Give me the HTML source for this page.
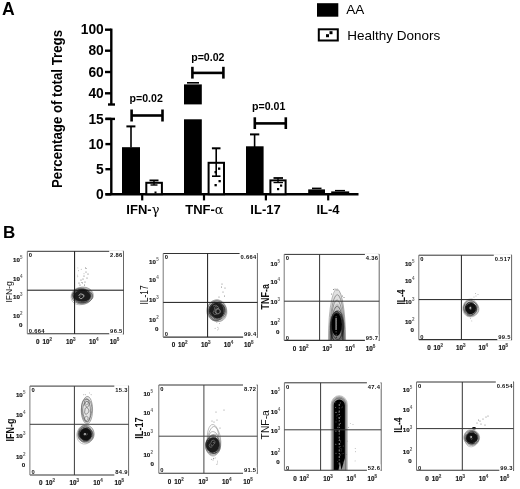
<!DOCTYPE html>
<html><head><meta charset="utf-8"><style>
html,body{margin:0;padding:0;background:#fff;}
svg{display:block;}
</style></head><body>
<svg width="520" height="489" viewBox="0 0 520 489">
<defs><clipPath id="c27_251"><rect x="27.3" y="251.3" width="96.2" height="82.5"/></clipPath><clipPath id="c163_253"><rect x="163.2" y="253.5" width="94.19999999999999" height="83.60000000000002"/></clipPath><clipPath id="c284_254"><rect x="284.2" y="254.4" width="95.0" height="85.99999999999997"/></clipPath><clipPath id="c418_255"><rect x="418.8" y="255.2" width="92.80000000000001" height="84.40000000000003"/></clipPath><clipPath id="c29_386"><rect x="29.9" y="386.1" width="98.69999999999999" height="88.89999999999998"/></clipPath><clipPath id="c158_385"><rect x="158.8" y="385" width="98.5" height="88.19999999999999"/></clipPath><clipPath id="c284_382"><rect x="284.4" y="382.8" width="96.80000000000001" height="87.5"/></clipPath><clipPath id="c416_382"><rect x="416.5" y="382" width="97.10000000000002" height="88.30000000000001"/></clipPath></defs>
<rect width="520" height="489" fill="#fff"/>
<text x="2" y="14.8" font-size="17.6" font-weight="bold" font-family="Liberation Sans, Arial, sans-serif">A</text>
<text transform="translate(62.2,188) rotate(-90)" font-size="14" font-weight="bold" font-family="Liberation Sans, Arial, sans-serif" textLength="158" lengthAdjust="spacingAndGlyphs">Percentage of total Tregs</text>
<line x1="111.30" y1="28.60" x2="111.30" y2="104.70" stroke="#000" stroke-width="2.4"/>
<line x1="108.00" y1="104.50" x2="115.00" y2="104.50" stroke="#000" stroke-width="2.4"/>
<line x1="105.00" y1="29.70" x2="111.30" y2="29.70" stroke="#000" stroke-width="2.4"/>
<text x="103.8" y="34.3" font-size="13.8" font-weight="bold" text-anchor="end" font-family="Liberation Sans, Arial, sans-serif">100</text>
<line x1="105.00" y1="50.70" x2="111.30" y2="50.70" stroke="#000" stroke-width="2.4"/>
<text x="103.8" y="55.3" font-size="13.8" font-weight="bold" text-anchor="end" font-family="Liberation Sans, Arial, sans-serif">80</text>
<line x1="105.00" y1="72.00" x2="111.30" y2="72.00" stroke="#000" stroke-width="2.4"/>
<text x="103.8" y="76.6" font-size="13.8" font-weight="bold" text-anchor="end" font-family="Liberation Sans, Arial, sans-serif">60</text>
<line x1="105.00" y1="93.30" x2="111.30" y2="93.30" stroke="#000" stroke-width="2.4"/>
<text x="103.8" y="97.9" font-size="13.8" font-weight="bold" text-anchor="end" font-family="Liberation Sans, Arial, sans-serif">40</text>
<line x1="111.30" y1="118.90" x2="111.30" y2="194.50" stroke="#000" stroke-width="2.4"/>
<line x1="105.40" y1="118.90" x2="115.00" y2="118.90" stroke="#000" stroke-width="2.4"/>
<line x1="105.40" y1="118.90" x2="111.30" y2="118.90" stroke="#000" stroke-width="2.4"/>
<text x="103.8" y="123.5" font-size="13.8" font-weight="bold" text-anchor="end" font-family="Liberation Sans, Arial, sans-serif">15</text>
<line x1="105.40" y1="144.10" x2="111.30" y2="144.10" stroke="#000" stroke-width="2.4"/>
<text x="103.8" y="148.7" font-size="13.8" font-weight="bold" text-anchor="end" font-family="Liberation Sans, Arial, sans-serif">10</text>
<line x1="105.40" y1="169.20" x2="111.30" y2="169.20" stroke="#000" stroke-width="2.4"/>
<text x="103.8" y="173.8" font-size="13.8" font-weight="bold" text-anchor="end" font-family="Liberation Sans, Arial, sans-serif">5</text>
<line x1="105.40" y1="194.30" x2="111.30" y2="194.30" stroke="#000" stroke-width="2.4"/>
<text x="103.8" y="198.9" font-size="13.8" font-weight="bold" text-anchor="end" font-family="Liberation Sans, Arial, sans-serif">0</text>
<line x1="105.40" y1="194.20" x2="358.50" y2="194.20" stroke="#000" stroke-width="2.4"/>
<line x1="142.20" y1="194.00" x2="142.20" y2="200.40" stroke="#000" stroke-width="2.2"/>
<line x1="204.00" y1="194.00" x2="204.00" y2="200.40" stroke="#000" stroke-width="2.2"/>
<line x1="265.90" y1="194.00" x2="265.90" y2="200.40" stroke="#000" stroke-width="2.2"/>
<line x1="328.20" y1="194.00" x2="328.20" y2="200.40" stroke="#000" stroke-width="2.2"/>
<text x="142.9" y="213.8" font-size="13" text-anchor="middle" font-family="Liberation Sans, Arial, sans-serif"><tspan font-weight="bold">IFN-</tspan><tspan font-family="DejaVu Serif, serif" font-size="13">γ</tspan></text>
<text x="204.4" y="213.8" font-size="13" text-anchor="middle" font-family="Liberation Sans, Arial, sans-serif"><tspan font-weight="bold">TNF-</tspan><tspan font-family="DejaVu Serif, serif" font-size="13">α</tspan></text>
<text x="265.5" y="213.8" font-size="13" font-weight="bold" text-anchor="middle" font-family="Liberation Sans, Arial, sans-serif">IL-17</text>
<text x="328" y="213.8" font-size="13" font-weight="bold" text-anchor="middle" font-family="Liberation Sans, Arial, sans-serif">IL-4</text>
<rect x="122.00" y="147.20" width="18.00" height="47.00" fill="#000"/>
<line x1="131.00" y1="126.20" x2="131.00" y2="147.50" stroke="#000" stroke-width="1.6"/>
<line x1="126.40" y1="126.40" x2="135.40" y2="126.40" stroke="#000" stroke-width="2"/>
<rect x="146.30" y="182.80" width="15.60" height="11.40" fill="#fff" stroke="#000" stroke-width="2"/>
<line x1="149.50" y1="180.40" x2="158.50" y2="180.40" stroke="#000" stroke-width="1.8"/>
<line x1="154.00" y1="180.40" x2="154.00" y2="185.00" stroke="#000" stroke-width="1.4"/>
<line x1="150.50" y1="185.00" x2="157.50" y2="185.00" stroke="#000" stroke-width="1.4"/>
<rect x="154.50" y="191.50" width="2.00" height="2.00" fill="#000"/>
<rect x="184.00" y="84.40" width="17.80" height="20.00" fill="#000"/>
<line x1="187.00" y1="82.80" x2="199.00" y2="82.80" stroke="#000" stroke-width="1.6"/>
<rect x="184.00" y="119.30" width="17.80" height="74.90" fill="#000"/>
<rect x="208.60" y="162.80" width="15.40" height="31.40" fill="#fff" stroke="#000" stroke-width="2"/>
<line x1="216.20" y1="148.30" x2="216.20" y2="176.20" stroke="#000" stroke-width="1.6"/>
<line x1="211.90" y1="148.30" x2="220.50" y2="148.30" stroke="#000" stroke-width="2"/>
<line x1="212.00" y1="176.20" x2="220.50" y2="176.20" stroke="#000" stroke-width="1.6"/>
<rect x="218.00" y="167.50" width="2.30" height="2.30" fill="#000"/>
<rect x="214.50" y="171.00" width="2.30" height="2.30" fill="#000"/>
<rect x="218.50" y="180.00" width="2.30" height="2.30" fill="#000"/>
<rect x="214.50" y="184.00" width="2.30" height="2.30" fill="#000"/>
<rect x="246.00" y="146.30" width="17.60" height="47.90" fill="#000"/>
<line x1="254.60" y1="134.40" x2="254.60" y2="147.00" stroke="#000" stroke-width="1.6"/>
<line x1="250.00" y1="134.40" x2="259.30" y2="134.40" stroke="#000" stroke-width="2"/>
<rect x="270.40" y="180.40" width="15.20" height="13.80" fill="#fff" stroke="#000" stroke-width="2"/>
<line x1="273.50" y1="178.00" x2="283.00" y2="178.00" stroke="#000" stroke-width="1.8"/>
<line x1="278.00" y1="178.00" x2="278.00" y2="183.00" stroke="#000" stroke-width="1.4"/>
<line x1="273.50" y1="182.60" x2="283.00" y2="182.60" stroke="#000" stroke-width="1.2"/>
<rect x="280.00" y="184.50" width="2.20" height="2.20" fill="#000"/>
<rect x="277.00" y="188.00" width="2.20" height="2.20" fill="#000"/>
<rect x="308.20" y="189.40" width="16.80" height="4.80" fill="#000"/>
<line x1="312.00" y1="188.40" x2="321.50" y2="188.40" stroke="#000" stroke-width="1.6"/>
<rect x="331.20" y="191.40" width="18.00" height="2.80" fill="#000"/>
<line x1="335.00" y1="190.60" x2="345.00" y2="190.60" stroke="#000" stroke-width="1.4"/>
<line x1="131.60" y1="115.50" x2="162.50" y2="115.50" stroke="#000" stroke-width="2.6"/>
<line x1="131.60" y1="109.50" x2="131.60" y2="121.50" stroke="#000" stroke-width="2.6"/>
<line x1="162.50" y1="109.50" x2="162.50" y2="121.50" stroke="#000" stroke-width="2.6"/>
<text x="146.2" y="101.8" font-size="10.6" font-weight="bold" text-anchor="middle" font-family="Liberation Sans, Arial, sans-serif">p=0.02</text>
<line x1="192.40" y1="72.90" x2="223.40" y2="72.90" stroke="#000" stroke-width="2.6"/>
<line x1="192.40" y1="66.80" x2="192.40" y2="78.60" stroke="#000" stroke-width="2.6"/>
<line x1="223.40" y1="66.80" x2="223.40" y2="78.60" stroke="#000" stroke-width="2.6"/>
<text x="207.8" y="60.8" font-size="10.6" font-weight="bold" text-anchor="middle" font-family="Liberation Sans, Arial, sans-serif">p=0.02</text>
<line x1="254.80" y1="123.40" x2="285.80" y2="123.40" stroke="#000" stroke-width="2.6"/>
<line x1="254.80" y1="117.30" x2="254.80" y2="129.00" stroke="#000" stroke-width="2.6"/>
<line x1="285.80" y1="117.30" x2="285.80" y2="129.00" stroke="#000" stroke-width="2.6"/>
<text x="268.7" y="109.5" font-size="10.6" font-weight="bold" text-anchor="middle" font-family="Liberation Sans, Arial, sans-serif">p=0.01</text>
<rect x="317.00" y="3.20" width="21.30" height="13.50" fill="#000"/>
<text x="346.3" y="14.4" font-size="13.5" font-family="Liberation Sans, Arial, sans-serif">AA</text>
<rect x="318.80" y="29.30" width="19.00" height="11.20" fill="#fff" stroke="#000" stroke-width="2"/>
<rect x="326.00" y="34.20" width="3.00" height="3.00" fill="#000"/>
<rect x="329.50" y="31.20" width="3.00" height="3.00" fill="#000"/>
<text x="347.2" y="39.5" font-size="13.5" font-family="Liberation Sans, Arial, sans-serif">Healthy Donors</text>
<text x="3" y="237.9" font-size="17" font-weight="bold" font-family="Liberation Sans, Arial, sans-serif">B</text>
<circle cx="79.0" cy="283.0" r="0.5" fill="#555"/>
<circle cx="81.0" cy="280.0" r="0.5" fill="#555"/>
<circle cx="84.0" cy="276.0" r="0.5" fill="#555"/>
<circle cx="86.0" cy="272.0" r="0.5" fill="#555"/>
<circle cx="83.0" cy="279.0" r="0.5" fill="#555"/>
<circle cx="87.0" cy="278.0" r="0.5" fill="#555"/>
<circle cx="80.0" cy="285.0" r="0.5" fill="#555"/>
<circle cx="85.0" cy="282.0" r="0.5" fill="#555"/>
<circle cx="88.0" cy="274.0" r="0.5" fill="#555"/>
<circle cx="86.0" cy="268.5" r="0.5" fill="#555"/>
<circle cx="82.0" cy="282.5" r="0.5" fill="#555"/>
<circle cx="84.5" cy="285.0" r="0.5" fill="#555"/>
<circle cx="81.2" cy="269.2" r="0.45" fill="#888"/>
<circle cx="85.5" cy="267.5" r="0.45" fill="#888"/>
<circle cx="84.0" cy="273.7" r="0.45" fill="#888"/>
<circle cx="77.8" cy="276.7" r="0.45" fill="#888"/>
<circle cx="77.5" cy="275.1" r="0.45" fill="#888"/>
<circle cx="77.9" cy="267.9" r="0.45" fill="#888"/>
<circle cx="82.5" cy="283.4" r="0.45" fill="#888"/>
<circle cx="78.6" cy="270.7" r="0.45" fill="#888"/>
<path d="M92.99,295.90 L92.66,297.79 L91.86,299.58 L90.62,301.22 L88.95,302.63 L86.91,303.73 L84.59,304.44 L82.10,304.71 L79.59,304.52 L77.21,303.87 L75.09,302.79 L73.36,301.37 L72.10,299.67 L71.39,297.82 L71.21,295.90 L71.57,294.02 L72.39,292.24 L73.65,290.62 L75.30,289.22 L77.30,288.09 L79.60,287.32 L82.10,286.98 L84.66,287.12 L87.09,287.77 L89.24,288.88 L90.95,290.37 L92.16,292.10 L92.83,293.98Z" fill="#000" fill-opacity="0.10"/>
<path d="M93.49,295.90 L92.81,297.82 L91.54,299.46 L89.95,300.81 L88.24,301.93 L86.42,302.94 L84.41,303.85 L82.10,304.54 L79.51,304.79 L76.86,304.42 L74.49,303.38 L72.68,301.79 L71.56,299.88 L71.09,297.87 L71.11,295.90 L71.51,294.00 L72.27,292.19 L73.47,290.51 L75.15,289.06 L77.25,288.00 L79.63,287.41 L82.10,287.28 L84.53,287.56 L86.85,288.17 L89.03,289.09 L90.98,290.35 L92.51,291.97 L93.40,293.88Z" fill="none" stroke="rgb(170,170,170)" stroke-width="0.7"/>
<path d="M92.36,295.90 L91.93,297.64 L91.19,299.30 L90.11,300.87 L88.63,302.27 L86.74,303.38 L84.50,304.08 L82.10,304.27 L79.73,303.98 L77.55,303.25 L75.65,302.19 L74.09,300.87 L72.90,299.34 L72.15,297.66 L71.89,295.90 L72.15,294.14 L72.91,292.46 L74.10,290.94 L75.65,289.62 L77.52,288.51 L79.68,287.66 L82.10,287.18 L84.66,287.17 L87.17,287.72 L89.36,288.83 L91.01,290.38 L92.02,292.19 L92.43,294.07Z" fill="none" stroke="rgb(145,145,145)" stroke-width="0.7"/>
<path d="M92.43,295.90 L92.18,297.67 L91.36,299.33 L90.05,300.78 L88.38,301.97 L86.46,302.86 L84.34,303.46 L82.10,303.73 L79.81,303.61 L77.60,303.08 L75.63,302.15 L74.02,300.86 L72.86,299.32 L72.19,297.64 L71.98,295.90 L72.23,294.17 L72.94,292.50 L74.11,291.00 L75.72,289.74 L77.68,288.84 L79.86,288.35 L82.10,288.27 L84.28,288.55 L86.32,289.15 L88.19,290.02 L89.83,291.16 L91.16,292.54 L92.07,294.15Z" fill="none" stroke="rgb(121,121,121)" stroke-width="0.7"/>
<path d="M92.72,295.90 L92.58,297.72 L91.65,299.40 L90.11,300.76 L88.22,301.75 L86.21,302.40 L84.17,302.80 L82.10,302.97 L80.02,302.84 L78.02,302.35 L76.26,301.48 L74.89,300.28 L73.96,298.89 L73.40,297.41 L73.12,295.90 L73.10,294.33 L73.41,292.71 L74.23,291.12 L75.64,289.73 L77.59,288.77 L79.84,288.36 L82.10,288.49 L84.16,289.02 L85.99,289.76 L87.67,290.58 L89.30,291.53 L90.83,292.70 L92.07,294.17Z" fill="none" stroke="rgb(97,97,97)" stroke-width="0.7"/>
<path d="M91.43,295.90 L91.11,297.45 L90.32,298.88 L89.17,300.14 L87.73,301.22 L86.05,302.08 L84.15,302.67 L82.10,302.92 L80.01,302.79 L78.04,302.25 L76.32,301.35 L74.94,300.20 L73.92,298.87 L73.25,297.42 L72.96,295.90 L73.08,294.35 L73.67,292.84 L74.76,291.49 L76.28,290.41 L78.11,289.67 L80.10,289.29 L82.10,289.23 L84.06,289.45 L85.93,289.91 L87.69,290.62 L89.25,291.61 L90.47,292.87 L91.23,294.33Z" fill="none" stroke="rgb(73,73,73)" stroke-width="0.7"/>
<path d="M90.36,295.90 L90.11,297.26 L89.58,298.58 L88.75,299.84 L87.56,300.98 L85.98,301.89 L84.11,302.44 L82.10,302.54 L80.16,302.23 L78.41,301.59 L76.91,300.73 L75.62,299.74 L74.51,298.62 L73.63,297.34 L73.12,295.90 L73.12,294.38 L73.72,292.90 L74.89,291.63 L76.47,290.66 L78.28,290.01 L80.18,289.66 L82.10,289.55 L84.01,289.70 L85.85,290.12 L87.52,290.86 L88.87,291.89 L89.81,293.14 L90.29,294.51Z" fill="none" stroke="rgb(49,49,49)" stroke-width="0.7"/>
<path d="M90.41,295.90 L90.10,297.24 L89.39,298.47 L88.34,299.54 L87.01,300.41 L85.49,301.05 L83.83,301.44 L82.10,301.58 L80.37,301.46 L78.70,301.07 L77.17,300.42 L75.87,299.54 L74.84,298.46 L74.16,297.23 L73.86,295.90 L73.98,294.54 L74.53,293.23 L75.49,292.04 L76.81,291.04 L78.41,290.29 L80.21,289.84 L82.10,289.69 L83.99,289.86 L85.77,290.32 L87.38,291.06 L88.71,292.04 L89.70,293.22 L90.27,294.53Z" fill="none" stroke="rgb(25,25,25)" stroke-width="0.7"/>
<path d="M90.36,295.90 L90.28,297.27 L89.72,298.59 L88.67,299.74 L87.23,300.61 L85.56,301.16 L83.82,301.42 L82.10,301.45 L80.41,301.31 L78.74,301.01 L77.11,300.48 L75.65,299.66 L74.51,298.57 L73.85,297.28 L73.71,295.90 L74.06,294.56 L74.78,293.32 L75.78,292.21 L77.02,291.24 L78.50,290.43 L80.22,289.87 L82.10,289.63 L84.01,289.78 L85.78,290.31 L87.28,291.14 L88.49,292.17 L89.40,293.33 L90.04,294.57Z" fill="#1c1c1c"/>
<path d="M80.4,296.9 L79.6,295.9 L80.2,294.8 L81.4,294.8 L82.1,294.8 L83.2,294.5 L84.3,295.1 L84.0,296.4 L82.9,296.8" fill="none" stroke="#777" stroke-width="0.7" stroke-linejoin="round"/>
<path d="M78.5,295.5 q2,-3 4.5,-1 q2,2 -1,4 q-2,1 -3,-1.5" fill="none" stroke="#aaa" stroke-width="0.9"/>
<line x1="27.30" y1="251.30" x2="123.50" y2="251.30" stroke="#333" stroke-width="1"/>
<line x1="27.30" y1="333.80" x2="123.50" y2="333.80" stroke="#333" stroke-width="1.1"/>
<line x1="27.30" y1="251.30" x2="27.30" y2="333.80" stroke="#777" stroke-width="1"/>
<line x1="123.50" y1="251.30" x2="123.50" y2="334.30" stroke="#666" stroke-width="1"/>
<line x1="121.50" y1="251.30" x2="123.50" y2="251.30" stroke="#666" stroke-width="1"/>
<line x1="121.50" y1="333.80" x2="123.50" y2="333.80" stroke="#555" stroke-width="1"/>
<line x1="74.60" y1="251.30" x2="74.60" y2="333.80" stroke="#111" stroke-width="1.0"/>
<line x1="27.30" y1="290.20" x2="123.50" y2="290.20" stroke="#111" stroke-width="1.0"/>
<rect x="109.21" y="250.30" width="13.69" height="7.00" fill="#fff"/>
<rect x="109.21" y="327.80" width="13.69" height="7.00" fill="#fff"/>
<text x="28.8" y="257.2" font-size="5.8" font-weight="bold" letter-spacing="0.3" fill="#000" font-family="Liberation Sans, Arial, sans-serif">0</text>
<text x="122.6" y="257.2" font-size="5.8" font-weight="bold" letter-spacing="0.3" fill="#111" text-anchor="end" font-family="Liberation Sans, Arial, sans-serif">2.86</text>
<text x="28.8" y="333.0" font-size="5.8" font-weight="bold" letter-spacing="0.3" fill="#111" font-family="Liberation Sans, Arial, sans-serif">0.664</text>
<text x="122.6" y="333.0" font-size="5.8" font-weight="bold" letter-spacing="0.3" fill="#111" text-anchor="end" font-family="Liberation Sans, Arial, sans-serif">96.5</text>
<text x="36.1" y="344.1" font-size="6.3" font-weight="bold" fill="#111" stroke="#111" stroke-width="0.15" font-family="Liberation Sans, Arial, sans-serif">0</text>
<text x="42.4" y="344.1" font-size="6.3" font-weight="bold" fill="#111" stroke="#111" stroke-width="0.15" font-family="Liberation Sans, Arial, sans-serif">10<tspan font-size="4.5" dy="-3" fill="#666">2</tspan></text>
<text x="66.0" y="344.1" font-size="6.3" font-weight="bold" fill="#111" stroke="#111" stroke-width="0.15" font-family="Liberation Sans, Arial, sans-serif">10<tspan font-size="4.5" dy="-3" fill="#666">3</tspan></text>
<text x="89.1" y="344.1" font-size="6.3" font-weight="bold" fill="#111" stroke="#111" stroke-width="0.15" font-family="Liberation Sans, Arial, sans-serif">10<tspan font-size="4.5" dy="-3" fill="#666">4</tspan></text>
<text x="109.8" y="344.1" font-size="6.3" font-weight="bold" fill="#111" stroke="#111" stroke-width="0.15" font-family="Liberation Sans, Arial, sans-serif">10<tspan font-size="4.5" dy="-3" fill="#666">5</tspan></text>
<text x="19.9" y="261.8" font-size="6.2" font-weight="bold" fill="#111" stroke="#111" stroke-width="0.15" text-anchor="end" font-family="Liberation Sans, Arial, sans-serif">10</text>
<text x="20.1" y="258.8" font-size="4.5" font-weight="bold" fill="#666" font-family="Liberation Sans, Arial, sans-serif">5</text>
<text x="19.9" y="280.6" font-size="6.2" font-weight="bold" fill="#111" stroke="#111" stroke-width="0.15" text-anchor="end" font-family="Liberation Sans, Arial, sans-serif">10</text>
<text x="20.1" y="277.6" font-size="4.5" font-weight="bold" fill="#666" font-family="Liberation Sans, Arial, sans-serif">4</text>
<text x="19.9" y="298.7" font-size="6.2" font-weight="bold" fill="#111" stroke="#111" stroke-width="0.15" text-anchor="end" font-family="Liberation Sans, Arial, sans-serif">10</text>
<text x="20.1" y="295.7" font-size="4.5" font-weight="bold" fill="#666" font-family="Liberation Sans, Arial, sans-serif">3</text>
<text x="19.9" y="318.1" font-size="6.2" font-weight="bold" fill="#111" stroke="#111" stroke-width="0.15" text-anchor="end" font-family="Liberation Sans, Arial, sans-serif">10</text>
<text x="20.1" y="315.1" font-size="4.5" font-weight="bold" fill="#666" font-family="Liberation Sans, Arial, sans-serif">2</text>
<text x="22.5" y="327.3" font-size="6.2" font-weight="bold" fill="#111" stroke="#111" stroke-width="0.15" text-anchor="end" font-family="Liberation Sans, Arial, sans-serif">0</text>
<text transform="translate(11.70,302.60) rotate(-90)" font-size="9.5" fill="#111" font-family="Liberation Sans, Arial, sans-serif" textLength="21.2" lengthAdjust="spacingAndGlyphs">IFN-g</text>
<circle cx="222.0" cy="284.0" r="0.5" fill="#666"/>
<circle cx="221.5" cy="287.0" r="0.5" fill="#666"/>
<circle cx="223.0" cy="292.0" r="0.5" fill="#666"/>
<circle cx="224.5" cy="296.0" r="0.5" fill="#666"/>
<circle cx="219.0" cy="297.0" r="0.5" fill="#666"/>
<circle cx="225.0" cy="288.0" r="0.5" fill="#666"/>
<circle cx="219.6" cy="323.4" r="0.45" fill="#777"/>
<circle cx="216.9" cy="322.4" r="0.45" fill="#777"/>
<circle cx="218.7" cy="328.9" r="0.45" fill="#777"/>
<circle cx="217.7" cy="329.9" r="0.45" fill="#777"/>
<circle cx="215.1" cy="328.3" r="0.45" fill="#777"/>
<circle cx="217.9" cy="327.2" r="0.45" fill="#777"/>
<path d="M226.63,310.70 L226.20,313.15 L225.43,315.43 L224.36,317.53 L222.95,319.40 L221.21,320.90 L219.19,321.87 L217.00,322.19 L214.82,321.85 L212.78,320.90 L210.99,319.49 L209.47,317.70 L208.27,315.60 L207.45,313.24 L207.12,310.70 L207.35,308.13 L208.16,305.74 L209.46,303.69 L211.10,302.09 L212.96,300.92 L214.93,300.13 L217.00,299.72 L219.15,299.74 L221.30,300.30 L223.30,301.50 L224.95,303.32 L226.08,305.61 L226.62,308.14Z" fill="#000" fill-opacity="0.10"/>
<path d="M226.87,310.70 L226.86,313.32 L226.26,315.89 L225.05,318.18 L223.33,319.94 L221.28,321.06 L219.12,321.53 L217.00,321.48 L214.97,321.06 L213.02,320.34 L211.13,319.28 L209.37,317.79 L207.90,315.80 L206.93,313.38 L206.60,310.70 L206.95,308.03 L207.91,305.60 L209.32,303.57 L211.03,301.98 L212.92,300.83 L214.93,300.13 L217.00,299.90 L219.06,300.18 L221.02,300.98 L222.78,302.26 L224.29,303.93 L225.50,305.93 L226.39,308.20Z" fill="none" stroke="rgb(170,170,170)" stroke-width="0.7"/>
<path d="M225.91,310.70 L225.92,313.04 L225.51,315.42 L224.57,317.65 L223.10,319.51 L221.22,320.78 L219.12,321.38 L217.00,321.33 L215.00,320.77 L213.17,319.85 L211.50,318.64 L209.98,317.14 L208.70,315.30 L207.78,313.12 L207.37,310.70 L207.55,308.22 L208.29,305.88 L209.51,303.83 L211.09,302.17 L212.91,300.93 L214.91,300.16 L217.00,299.92 L219.07,300.25 L220.99,301.16 L222.64,302.56 L223.94,304.33 L224.90,306.32 L225.55,308.45Z" fill="none" stroke="rgb(145,145,145)" stroke-width="0.7"/>
<path d="M226.51,310.70 L226.24,313.10 L225.42,315.30 L224.13,317.15 L222.51,318.55 L220.71,319.46 L218.85,319.91 L217.00,319.95 L215.21,319.62 L213.49,318.96 L211.89,317.97 L210.45,316.63 L209.23,314.95 L208.34,312.94 L207.89,310.70 L207.97,308.36 L208.59,306.10 L209.73,304.12 L211.27,302.55 L213.09,301.48 L215.03,300.92 L217.00,300.82 L218.93,301.12 L220.78,301.79 L222.52,302.84 L224.08,304.29 L225.35,306.13 L226.20,308.32Z" fill="none" stroke="rgb(121,121,121)" stroke-width="0.7"/>
<path d="M225.09,310.70 L224.89,312.71 L224.27,314.61 L223.29,316.31 L222.04,317.77 L220.57,318.99 L218.89,319.97 L217.00,320.59 L214.96,320.72 L212.91,320.20 L211.09,318.99 L209.71,317.20 L208.90,315.06 L208.64,312.83 L208.79,310.70 L209.22,308.71 L209.84,306.85 L210.69,305.07 L211.82,303.44 L213.30,302.11 L215.07,301.26 L217.00,301.02 L218.90,301.39 L220.63,302.27 L222.11,303.53 L223.33,305.06 L224.26,306.79 L224.87,308.69Z" fill="none" stroke="rgb(97,97,97)" stroke-width="0.7"/>
<path d="M225.24,310.70 L224.97,312.70 L224.26,314.54 L223.24,316.17 L221.99,317.59 L220.55,318.80 L218.88,319.75 L217.00,320.26 L215.03,320.18 L213.17,319.43 L211.64,318.09 L210.54,316.37 L209.86,314.48 L209.51,312.58 L209.39,310.70 L209.49,308.82 L209.90,306.94 L210.71,305.19 L211.95,303.74 L213.52,302.76 L215.26,302.32 L217.00,302.37 L218.65,302.76 L220.20,303.38 L221.69,304.24 L223.06,305.38 L224.22,306.88 L224.99,308.70Z" fill="none" stroke="rgb(73,73,73)" stroke-width="0.7"/>
<path d="M224.18,310.70 L223.82,312.38 L223.28,313.96 L222.56,315.48 L221.59,316.90 L220.30,318.10 L218.73,318.88 L217.00,319.13 L215.28,318.82 L213.71,318.06 L212.34,317.00 L211.16,315.73 L210.14,314.26 L209.35,312.58 L208.92,310.70 L208.98,308.72 L209.60,306.85 L210.71,305.29 L212.14,304.13 L213.73,303.37 L215.36,302.93 L217.00,302.73 L218.67,302.79 L220.34,303.21 L221.89,304.08 L223.14,305.42 L223.94,307.09 L224.26,308.91Z" fill="none" stroke="rgb(49,49,49)" stroke-width="0.7"/>
<path d="M224.21,310.70 L223.93,312.37 L223.32,313.91 L222.45,315.28 L221.33,316.43 L220.02,317.31 L218.55,317.88 L217.00,318.11 L215.43,317.97 L213.91,317.47 L212.51,316.64 L211.30,315.50 L210.35,314.08 L209.74,312.45 L209.52,310.70 L209.74,308.95 L210.36,307.33 L211.33,305.93 L212.55,304.80 L213.93,303.98 L215.43,303.44 L217.00,303.21 L218.60,303.30 L220.16,303.76 L221.60,304.61 L222.80,305.82 L223.66,307.31 L224.14,308.98Z" fill="none" stroke="rgb(25,25,25)" stroke-width="0.7"/>
<path d="M223.77,310.70 L223.64,312.30 L223.25,313.88 L222.58,315.40 L221.57,316.75 L220.23,317.78 L218.66,318.37 L217.00,318.46 L215.40,318.09 L213.96,317.35 L212.71,316.37 L211.64,315.22 L210.73,313.89 L210.05,312.37 L209.69,310.70 L209.73,308.95 L210.21,307.25 L211.11,305.74 L212.33,304.52 L213.78,303.64 L215.36,303.10 L217.00,302.93 L218.64,303.13 L220.18,303.73 L221.52,304.72 L222.57,306.01 L223.28,307.51 L223.67,309.09Z" fill="#1c1c1c"/>
<path d="M216.7,312.3 L215.5,312.7 L214.7,311.7 L215.2,310.5 L215.5,309.9 L215.6,308.8 L216.6,308.0 L217.6,308.8 L217.6,310.0" fill="none" stroke="#777" stroke-width="0.7" stroke-linejoin="round"/>
<path d="M216.9,313.9 L214.5,314.7 L213.1,312.7 L214.0,310.6 L214.5,309.4 L214.7,307.3 L216.7,305.8 L218.7,307.4 L218.6,309.5" fill="none" stroke="#777" stroke-width="0.7" stroke-linejoin="round"/>
<path d="M220.25,311.30 L220.19,312.00 L219.94,312.63 L219.53,313.12 L219.04,313.44 L218.55,313.63 L218.07,313.74 L217.60,313.80 L217.12,313.80 L216.64,313.66 L216.21,313.36 L215.90,312.90 L215.75,312.35 L215.75,311.80 L215.83,311.30 L215.94,310.85 L216.05,310.42 L216.17,309.96 L216.37,309.48 L216.68,309.05 L217.11,308.74 L217.60,308.62 L218.11,308.68 L218.58,308.89 L219.02,309.19 L219.44,309.57 L219.81,310.04 L220.10,310.63Z" fill="none" stroke="#999" stroke-width="0.9"/>
<path d="M213,306 q3,-2 5,1" fill="none" stroke="#777" stroke-width="0.7"/>
<line x1="163.20" y1="253.50" x2="257.40" y2="253.50" stroke="#333" stroke-width="1"/>
<line x1="163.20" y1="337.10" x2="257.40" y2="337.10" stroke="#333" stroke-width="1.1"/>
<line x1="163.20" y1="253.50" x2="163.20" y2="337.10" stroke="#777" stroke-width="1"/>
<line x1="257.40" y1="253.50" x2="257.40" y2="337.60" stroke="#666" stroke-width="1"/>
<line x1="255.40" y1="253.50" x2="257.40" y2="253.50" stroke="#666" stroke-width="1"/>
<line x1="255.40" y1="337.10" x2="257.40" y2="337.10" stroke="#555" stroke-width="1"/>
<line x1="207.60" y1="253.50" x2="207.60" y2="337.10" stroke="#1a1a1a" stroke-width="1.0"/>
<line x1="163.20" y1="302.40" x2="257.40" y2="302.40" stroke="#1a1a1a" stroke-width="1.0"/>
<rect x="239.59" y="252.50" width="17.21" height="7.00" fill="#fff"/>
<rect x="243.11" y="331.10" width="13.69" height="7.00" fill="#fff"/>
<text x="164.7" y="259.4" font-size="5.8" font-weight="bold" letter-spacing="0.3" fill="#000" font-family="Liberation Sans, Arial, sans-serif">0</text>
<text x="256.5" y="259.4" font-size="5.8" font-weight="bold" letter-spacing="0.3" fill="#111" text-anchor="end" font-family="Liberation Sans, Arial, sans-serif">0.664</text>
<text x="164.7" y="336.3" font-size="5.8" font-weight="bold" letter-spacing="0.3" fill="#111" font-family="Liberation Sans, Arial, sans-serif">0</text>
<text x="256.5" y="336.3" font-size="5.8" font-weight="bold" letter-spacing="0.3" fill="#111" text-anchor="end" font-family="Liberation Sans, Arial, sans-serif">99.4</text>
<text x="171.8" y="347.4" font-size="6.3" font-weight="bold" fill="#111" stroke="#111" stroke-width="0.15" font-family="Liberation Sans, Arial, sans-serif">0</text>
<text x="178.0" y="347.4" font-size="6.3" font-weight="bold" fill="#111" stroke="#111" stroke-width="0.15" font-family="Liberation Sans, Arial, sans-serif">10<tspan font-size="4.5" dy="-3" fill="#666">2</tspan></text>
<text x="201.1" y="347.4" font-size="6.3" font-weight="bold" fill="#111" stroke="#111" stroke-width="0.15" font-family="Liberation Sans, Arial, sans-serif">10<tspan font-size="4.5" dy="-3" fill="#666">3</tspan></text>
<text x="223.7" y="347.4" font-size="6.3" font-weight="bold" fill="#111" stroke="#111" stroke-width="0.15" font-family="Liberation Sans, Arial, sans-serif">10<tspan font-size="4.5" dy="-3" fill="#666">4</tspan></text>
<text x="244.0" y="347.4" font-size="6.3" font-weight="bold" fill="#111" stroke="#111" stroke-width="0.15" font-family="Liberation Sans, Arial, sans-serif">10<tspan font-size="4.5" dy="-3" fill="#666">5</tspan></text>
<text x="156.0" y="264.3" font-size="6.2" font-weight="bold" fill="#111" stroke="#111" stroke-width="0.15" text-anchor="end" font-family="Liberation Sans, Arial, sans-serif">10</text>
<text x="156.2" y="261.3" font-size="4.5" font-weight="bold" fill="#666" font-family="Liberation Sans, Arial, sans-serif">5</text>
<text x="156.0" y="281.8" font-size="6.2" font-weight="bold" fill="#111" stroke="#111" stroke-width="0.15" text-anchor="end" font-family="Liberation Sans, Arial, sans-serif">10</text>
<text x="156.2" y="278.8" font-size="4.5" font-weight="bold" fill="#666" font-family="Liberation Sans, Arial, sans-serif">4</text>
<text x="156.0" y="301.7" font-size="6.2" font-weight="bold" fill="#111" stroke="#111" stroke-width="0.15" text-anchor="end" font-family="Liberation Sans, Arial, sans-serif">10</text>
<text x="156.2" y="298.7" font-size="4.5" font-weight="bold" fill="#666" font-family="Liberation Sans, Arial, sans-serif">3</text>
<text x="156.0" y="322.0" font-size="6.2" font-weight="bold" fill="#111" stroke="#111" stroke-width="0.15" text-anchor="end" font-family="Liberation Sans, Arial, sans-serif">10</text>
<text x="156.2" y="319.0" font-size="4.5" font-weight="bold" fill="#666" font-family="Liberation Sans, Arial, sans-serif">2</text>
<text x="158.4" y="331.2" font-size="6.2" font-weight="bold" fill="#111" stroke="#111" stroke-width="0.15" text-anchor="end" font-family="Liberation Sans, Arial, sans-serif">0</text>
<text transform="translate(147.79,304.60) rotate(-90)" font-size="10.6" fill="#111" font-family="Liberation Sans, Arial, sans-serif" textLength="19.3" lengthAdjust="spacingAndGlyphs">IL-17</text>
<circle cx="333.5" cy="289.5" r="0.5" fill="#666"/>
<circle cx="335.0" cy="289.0" r="0.5" fill="#666"/>
<circle cx="337.0" cy="290.0" r="0.5" fill="#666"/>
<circle cx="331.5" cy="294.0" r="0.5" fill="#666"/>
<circle cx="342.5" cy="296.0" r="0.5" fill="#666"/>
<circle cx="344.0" cy="297.5" r="0.5" fill="#666"/>
<path d="M345.59,340.50 L345.38,351.57 L344.77,362.11 L343.79,371.66 L342.48,379.76 L340.89,385.97 L339.10,389.88 L337.20,391.26 L335.29,390.02 L333.48,386.26 L331.86,380.24 L330.48,372.27 L329.42,362.71 L328.73,351.96 L328.45,340.50 L328.61,328.88 L329.23,317.74 L330.28,307.76 L331.69,299.52 L333.38,293.48 L335.25,289.91 L337.20,288.94 L339.12,290.54 L340.93,294.59 L342.53,300.88 L343.85,309.07 L344.82,318.74 L345.41,329.39Z" fill="none" stroke="rgb(150,150,150)" stroke-width="0.65" clip-path="url(#c284_254)"/>
<path d="M344.94,340.50 L344.79,350.72 L344.25,360.53 L343.35,369.41 L342.11,376.81 L340.61,382.30 L338.95,385.63 L337.20,386.69 L335.46,385.51 L333.80,382.15 L332.30,376.74 L331.04,369.48 L330.09,360.69 L329.52,350.84 L329.35,340.50 L329.59,330.26 L330.21,320.64 L331.16,312.07 L332.38,304.89 L333.84,299.39 L335.47,295.89 L337.20,294.63 L338.93,295.75 L340.57,299.21 L342.03,304.78 L343.24,312.11 L344.14,320.78 L344.72,330.38Z" fill="none" stroke="rgb(130,130,130)" stroke-width="0.65" clip-path="url(#c284_254)"/>
<path d="M344.62,340.50 L344.52,349.78 L343.98,358.65 L343.05,366.40 L341.79,372.50 L340.34,376.68 L338.78,378.97 L337.20,379.48 L335.65,378.31 L334.17,375.49 L332.82,371.00 L331.69,364.93 L330.83,357.54 L330.30,349.24 L330.12,340.50 L330.28,331.73 L330.76,323.28 L331.56,315.53 L332.66,308.89 L334.02,303.84 L335.57,300.80 L337.20,300.01 L338.81,301.42 L340.30,304.77 L341.62,309.69 L342.75,315.89 L343.67,323.20 L344.31,331.48Z" fill="none" stroke="rgb(120,120,120)" stroke-width="0.65" clip-path="url(#c284_254)"/>
<path d="M343.79,340.50 L343.57,347.99 L343.05,355.01 L342.25,361.26 L341.22,366.49 L340.00,370.46 L338.64,372.97 L337.20,373.85 L335.76,373.05 L334.38,370.63 L333.14,366.71 L332.09,361.50 L331.27,355.21 L330.74,348.10 L330.52,340.50 L330.65,332.80 L331.13,325.45 L331.94,318.88 L333.02,313.47 L334.30,309.47 L335.72,307.02 L337.20,306.20 L338.68,307.02 L340.10,309.48 L341.38,313.53 L342.44,318.99 L343.22,325.57 L343.67,332.89Z" fill="none" stroke="rgb(100,100,100)" stroke-width="0.65" clip-path="url(#c284_254)"/>
<path d="M343.58,340.50 L343.37,347.19 L342.81,353.34 L341.98,358.61 L340.95,362.87 L339.79,366.08 L338.53,368.17 L337.20,368.99 L335.86,368.37 L334.59,366.25 L333.47,362.74 L332.55,358.12 L331.86,352.72 L331.40,346.79 L331.18,340.50 L331.22,334.01 L331.58,327.63 L332.27,321.80 L333.26,317.04 L334.49,313.76 L335.84,312.10 L337.20,311.94 L338.52,313.02 L339.77,315.12 L340.94,318.20 L341.99,322.34 L342.84,327.59 L343.39,333.78Z" fill="none" stroke="rgb(90,90,90)" stroke-width="0.65" clip-path="url(#c284_254)"/>
<path d="M342.76,340.50 L342.65,345.65 L342.32,350.70 L341.74,355.49 L340.90,359.70 L339.81,362.92 L338.54,364.83 L337.20,365.30 L335.88,364.42 L334.65,362.39 L333.55,359.42 L332.61,355.64 L331.87,351.12 L331.39,345.98 L331.24,340.50 L331.43,335.05 L331.95,330.03 L332.72,325.73 L333.69,322.27 L334.77,319.63 L335.95,317.83 L337.20,316.98 L338.48,317.25 L339.72,318.82 L340.83,321.69 L341.70,325.64 L342.31,330.31 L342.65,335.35Z" fill="none" stroke="rgb(70,70,70)" stroke-width="0.65" clip-path="url(#c284_254)"/>
<path d="M342.50,340.50 L342.37,344.58 L342.02,348.52 L341.44,352.19 L340.64,355.41 L339.63,357.95 L338.46,359.60 L337.20,360.22 L335.93,359.75 L334.73,358.25 L333.66,355.83 L332.79,352.65 L332.15,348.90 L331.77,344.78 L331.68,340.50 L331.86,336.29 L332.30,332.35 L332.97,328.85 L333.84,325.93 L334.85,323.67 L335.99,322.20 L337.20,321.60 L338.42,321.98 L339.59,323.35 L340.62,325.68 L341.46,328.78 L342.05,332.43 L342.40,336.40Z" fill="none" stroke="rgb(50,50,50)" stroke-width="0.65" clip-path="url(#c284_254)"/>
<path d="M345.62,340.50 L345.38,351.58 L344.79,362.18 L343.85,371.94 L342.56,380.36 L340.96,386.80 L339.13,390.70 L337.20,391.78 L335.29,390.06 L333.51,385.89 L331.93,379.69 L330.58,371.80 L329.51,362.45 L328.79,351.89 L328.48,340.50 L328.64,328.91 L329.29,317.90 L330.37,308.19 L331.79,300.30 L333.46,294.48 L335.29,290.83 L337.20,289.45 L339.13,290.47 L340.97,294.04 L342.63,300.13 L343.98,308.45 L344.94,318.40 L345.48,329.29Z" fill="#000" fill-opacity="0.12" clip-path="url(#c284_254)"/>
<path d="M344.28,340.50 L344.17,348.45 L343.69,356.13 L342.85,363.03 L341.69,368.66 L340.30,372.70 L338.78,375.04 L337.20,375.73 L335.63,374.87 L334.12,372.48 L332.73,368.54 L331.54,363.08 L330.63,356.31 L330.09,348.61 L329.94,340.50 L330.16,332.47 L330.72,324.90 L331.57,318.04 L332.68,312.14 L334.02,307.49 L335.56,304.47 L337.20,303.41 L338.84,304.49 L340.37,307.59 L341.69,312.36 L342.75,318.37 L343.54,325.23 L344.06,332.67Z" fill="#000" fill-opacity="0.12" clip-path="url(#c284_254)"/>
<path d="M343.57,327.00 L343.40,330.44 L342.93,333.72 L342.16,336.69 L341.14,339.22 L339.90,341.17 L338.50,342.45 L337.00,342.97 L335.48,342.69 L334.01,341.61 L332.67,339.77 L331.54,337.25 L330.68,334.16 L330.14,330.68 L329.97,327.00 L330.16,323.32 L330.70,319.86 L331.56,316.79 L332.68,314.27 L334.01,312.41 L335.48,311.29 L337.00,310.97 L338.51,311.46 L339.92,312.72 L341.17,314.69 L342.20,317.24 L342.96,320.25 L343.42,323.55Z" fill="#000" fill-opacity="0.35" clip-path="url(#c284_254)"/>
<path d="M343.80,327.00 L343.54,330.51 L343.03,333.83 L342.26,336.87 L341.24,339.51 L339.97,341.53 L338.53,342.76 L337.00,343.07 L335.50,342.48 L334.11,341.11 L332.90,339.11 L331.87,336.62 L331.07,333.72 L330.53,330.48 L330.30,327.00 L330.43,323.47 L330.93,320.12 L331.75,317.15 L332.83,314.69 L334.09,312.79 L335.50,311.49 L337.00,310.83 L338.56,310.93 L340.09,311.91 L341.47,313.80 L342.59,316.51 L343.36,319.79 L343.75,323.37Z" fill="none" stroke="#222" stroke-width="0.6" clip-path="url(#c284_254)"/>
<path d="M343.22,326.50 L343.02,329.71 L342.48,332.67 L341.68,335.23 L340.71,337.37 L339.60,339.13 L338.37,340.49 L337.00,341.31 L335.55,341.35 L334.13,340.42 L332.90,338.52 L331.99,335.84 L331.44,332.76 L331.22,329.59 L331.22,326.50 L331.39,323.50 L331.71,320.54 L332.25,317.64 L333.07,314.98 L334.20,312.89 L335.55,311.64 L337.00,311.37 L338.41,312.01 L339.71,313.36 L340.84,315.23 L341.81,317.54 L342.57,320.23 L343.06,323.26Z" fill="none" stroke="#222" stroke-width="0.6" clip-path="url(#c284_254)"/>
<path d="M342.62,326.00 L342.47,328.87 L342.13,331.67 L341.56,334.34 L340.71,336.68 L339.61,338.42 L338.33,339.35 L337.00,339.42 L335.73,338.75 L334.58,337.54 L333.54,335.96 L332.61,334.03 L331.81,331.73 L331.24,329.02 L330.99,326.00 L331.13,322.93 L331.65,320.09 L332.47,317.71 L333.47,315.85 L334.58,314.45 L335.75,313.46 L337.00,312.90 L338.30,312.91 L339.59,313.66 L340.75,315.21 L341.66,317.47 L342.27,320.18 L342.57,323.09Z" fill="none" stroke="#222" stroke-width="0.6" clip-path="url(#c284_254)"/>
<ellipse cx="336.7" cy="324.6" rx="5.2" ry="11.6" fill="#000"/>
<path d="M337.3,338 q-3,-4 -1,-4 q2,0 -1,4" fill="#333"/>
<line x1="336.1" y1="318" x2="336.1" y2="330" stroke="#bbb" stroke-width="1.1"/>
<line x1="336.1" y1="316" x2="336.1" y2="333" stroke="#666" stroke-width="0.8" stroke-dasharray="1.5 1"/>
<line x1="284.20" y1="254.40" x2="379.20" y2="254.40" stroke="#333" stroke-width="1"/>
<line x1="284.20" y1="340.40" x2="379.20" y2="340.40" stroke="#333" stroke-width="1.1"/>
<line x1="284.20" y1="254.40" x2="284.20" y2="340.40" stroke="#777" stroke-width="1"/>
<line x1="379.20" y1="254.40" x2="379.20" y2="340.90" stroke="#666" stroke-width="1"/>
<line x1="377.20" y1="254.40" x2="379.20" y2="254.40" stroke="#666" stroke-width="1"/>
<line x1="377.20" y1="340.40" x2="379.20" y2="340.40" stroke="#555" stroke-width="1"/>
<line x1="319.60" y1="254.40" x2="319.60" y2="340.40" stroke="#333" stroke-width="1.0"/>
<line x1="284.20" y1="301.20" x2="379.20" y2="301.20" stroke="#333" stroke-width="1.0"/>
<rect x="364.91" y="253.40" width="13.69" height="7.00" fill="#fff"/>
<rect x="364.91" y="334.40" width="13.69" height="7.00" fill="#fff"/>
<text x="285.7" y="260.3" font-size="5.8" font-weight="bold" letter-spacing="0.3" fill="#000" font-family="Liberation Sans, Arial, sans-serif">0</text>
<text x="378.3" y="260.3" font-size="5.8" font-weight="bold" letter-spacing="0.3" fill="#111" text-anchor="end" font-family="Liberation Sans, Arial, sans-serif">4.36</text>
<text x="285.7" y="339.59999999999997" font-size="5.8" font-weight="bold" letter-spacing="0.3" fill="#111" font-family="Liberation Sans, Arial, sans-serif">0</text>
<text x="378.3" y="339.59999999999997" font-size="5.8" font-weight="bold" letter-spacing="0.3" fill="#111" text-anchor="end" font-family="Liberation Sans, Arial, sans-serif">95.7</text>
<text x="292.8" y="350.7" font-size="6.3" font-weight="bold" fill="#111" stroke="#111" stroke-width="0.15" font-family="Liberation Sans, Arial, sans-serif">0</text>
<text x="299.1" y="350.7" font-size="6.3" font-weight="bold" fill="#111" stroke="#111" stroke-width="0.15" font-family="Liberation Sans, Arial, sans-serif">10<tspan font-size="4.5" dy="-3" fill="#666">2</tspan></text>
<text x="322.4" y="350.7" font-size="6.3" font-weight="bold" fill="#111" stroke="#111" stroke-width="0.15" font-family="Liberation Sans, Arial, sans-serif">10<tspan font-size="4.5" dy="-3" fill="#666">3</tspan></text>
<text x="345.2" y="350.7" font-size="6.3" font-weight="bold" fill="#111" stroke="#111" stroke-width="0.15" font-family="Liberation Sans, Arial, sans-serif">10<tspan font-size="4.5" dy="-3" fill="#666">4</tspan></text>
<text x="365.7" y="350.7" font-size="6.3" font-weight="bold" fill="#111" stroke="#111" stroke-width="0.15" font-family="Liberation Sans, Arial, sans-serif">10<tspan font-size="4.5" dy="-3" fill="#666">5</tspan></text>
<text x="277.4" y="265.7" font-size="6.2" font-weight="bold" fill="#111" stroke="#111" stroke-width="0.15" text-anchor="end" font-family="Liberation Sans, Arial, sans-serif">10</text>
<text x="277.6" y="262.7" font-size="4.5" font-weight="bold" fill="#666" font-family="Liberation Sans, Arial, sans-serif">5</text>
<text x="277.4" y="284.1" font-size="6.2" font-weight="bold" fill="#111" stroke="#111" stroke-width="0.15" text-anchor="end" font-family="Liberation Sans, Arial, sans-serif">10</text>
<text x="277.6" y="281.1" font-size="4.5" font-weight="bold" fill="#666" font-family="Liberation Sans, Arial, sans-serif">4</text>
<text x="277.4" y="304.0" font-size="6.2" font-weight="bold" fill="#111" stroke="#111" stroke-width="0.15" text-anchor="end" font-family="Liberation Sans, Arial, sans-serif">10</text>
<text x="277.6" y="301.0" font-size="4.5" font-weight="bold" fill="#666" font-family="Liberation Sans, Arial, sans-serif">3</text>
<text x="277.4" y="325.3" font-size="6.2" font-weight="bold" fill="#111" stroke="#111" stroke-width="0.15" text-anchor="end" font-family="Liberation Sans, Arial, sans-serif">10</text>
<text x="277.6" y="322.3" font-size="4.5" font-weight="bold" fill="#666" font-family="Liberation Sans, Arial, sans-serif">2</text>
<text x="279.4" y="333.7" font-size="6.2" font-weight="bold" fill="#111" stroke="#111" stroke-width="0.15" text-anchor="end" font-family="Liberation Sans, Arial, sans-serif">0</text>
<text transform="translate(268.83,309.40) rotate(-90)" font-size="10.8" font-weight="bold" fill="#111" font-family="Liberation Sans, Arial, sans-serif" textLength="25.3" lengthAdjust="spacingAndGlyphs">TNF-a</text>
<circle cx="474.0" cy="297.0" r="0.45" fill="#777"/>
<circle cx="476.0" cy="296.0" r="0.45" fill="#777"/>
<circle cx="478.0" cy="294.5" r="0.45" fill="#777"/>
<circle cx="472.0" cy="299.0" r="0.45" fill="#777"/>
<circle cx="475.5" cy="293.5" r="0.45" fill="#777"/>
<circle cx="471.8" cy="320.9" r="0.45" fill="#777"/>
<circle cx="469.9" cy="316.1" r="0.45" fill="#777"/>
<circle cx="467.6" cy="315.3" r="0.45" fill="#777"/>
<circle cx="470.4" cy="318.3" r="0.45" fill="#777"/>
<circle cx="470.5" cy="316.6" r="0.45" fill="#777"/>
<path d="M479.00,308.50 L478.67,310.48 L477.86,312.26 L476.72,313.75 L475.37,314.93 L473.89,315.84 L472.30,316.49 L470.60,316.82 L468.85,316.75 L467.15,316.21 L465.63,315.20 L464.40,313.81 L463.51,312.17 L462.95,310.38 L462.71,308.50 L462.79,306.58 L463.24,304.69 L464.12,302.94 L465.40,301.50 L467.01,300.49 L468.79,299.98 L470.60,299.94 L472.34,300.28 L473.99,300.93 L475.53,301.85 L476.92,303.08 L478.06,304.64 L478.79,306.49Z" fill="#000" fill-opacity="0.10"/>
<path d="M478.29,308.50 L478.24,310.37 L477.76,312.21 L476.84,313.85 L475.56,315.18 L474.02,316.14 L472.34,316.71 L470.60,316.91 L468.85,316.74 L467.16,316.18 L465.62,315.21 L464.36,313.85 L463.47,312.19 L462.98,310.37 L462.86,308.50 L463.05,306.65 L463.52,304.83 L464.27,303.08 L465.38,301.46 L466.85,300.13 L468.65,299.30 L470.60,299.09 L472.51,299.53 L474.19,300.50 L475.55,301.82 L476.61,303.35 L477.42,304.97 L477.99,306.69Z" fill="none" stroke="rgb(170,170,170)" stroke-width="0.7"/>
<path d="M478.87,308.50 L478.73,310.49 L477.99,312.31 L476.78,313.77 L475.31,314.82 L473.76,315.52 L472.19,315.97 L470.60,316.20 L468.97,316.15 L467.37,315.68 L465.95,314.73 L464.88,313.38 L464.22,311.79 L463.94,310.13 L463.92,308.50 L464.05,306.90 L464.35,305.28 L464.91,303.65 L465.86,302.14 L467.21,300.97 L468.86,300.32 L470.60,300.27 L472.26,300.73 L473.75,301.51 L475.09,302.47 L476.35,303.59 L477.50,304.95 L478.40,306.59Z" fill="none" stroke="rgb(141,141,141)" stroke-width="0.7"/>
<path d="M477.38,308.50 L477.07,310.07 L476.48,311.51 L475.67,312.80 L474.66,313.91 L473.47,314.83 L472.10,315.49 L470.60,315.78 L469.07,315.64 L467.63,315.06 L466.40,314.11 L465.42,312.89 L464.71,311.52 L464.21,310.05 L463.93,308.50 L463.89,306.87 L464.18,305.21 L464.86,303.63 L465.93,302.27 L467.33,301.28 L468.93,300.74 L470.60,300.65 L472.22,300.96 L473.71,301.62 L475.03,302.59 L476.12,303.82 L476.90,305.27 L477.33,306.87Z" fill="none" stroke="rgb(112,112,112)" stroke-width="0.7"/>
<path d="M476.58,308.50 L476.11,309.83 L475.55,311.02 L474.94,312.16 L474.20,313.27 L473.23,314.28 L472.01,315.02 L470.60,315.35 L469.15,315.22 L467.78,314.68 L466.56,313.85 L465.50,312.80 L464.59,311.56 L463.92,310.11 L463.60,308.50 L463.74,306.85 L464.38,305.33 L465.41,304.13 L466.66,303.28 L467.97,302.73 L469.27,302.36 L470.60,302.10 L472.01,302.00 L473.47,302.20 L474.87,302.84 L475.99,303.96 L476.66,305.42 L476.82,307.00Z" fill="none" stroke="rgb(83,83,83)" stroke-width="0.7"/>
<path d="M476.40,308.50 L476.48,309.91 L476.21,311.33 L475.55,312.63 L474.54,313.68 L473.30,314.38 L471.95,314.72 L470.60,314.74 L469.29,314.50 L468.07,314.02 L466.96,313.28 L466.04,312.31 L465.39,311.13 L465.05,309.83 L465.02,308.50 L465.24,307.22 L465.67,306.01 L466.27,304.88 L467.06,303.85 L468.07,302.99 L469.27,302.40 L470.60,302.20 L471.93,302.41 L473.13,303.00 L474.13,303.87 L474.93,304.88 L475.57,305.99 L476.07,307.19Z" fill="none" stroke="rgb(54,54,54)" stroke-width="0.7"/>
<path d="M476.29,308.50 L476.03,309.79 L475.43,310.91 L474.61,311.82 L473.68,312.51 L472.71,313.05 L471.69,313.47 L470.60,313.73 L469.45,313.74 L468.31,313.43 L467.31,312.78 L466.53,311.87 L466.00,310.80 L465.69,309.66 L465.54,308.50 L465.55,307.30 L465.76,306.08 L466.26,304.91 L467.07,303.90 L468.14,303.20 L469.36,302.87 L470.60,302.89 L471.77,303.18 L472.85,303.64 L473.87,304.25 L474.81,305.02 L475.61,306.00 L476.14,307.19Z" fill="none" stroke="rgb(25,25,25)" stroke-width="0.7"/>
<path d="M475.98,308.50 L475.79,309.73 L475.39,310.89 L474.78,311.96 L473.96,312.88 L472.96,313.58 L471.81,314.00 L470.60,314.10 L469.42,313.88 L468.33,313.39 L467.38,312.69 L466.58,311.83 L465.96,310.82 L465.54,309.70 L465.37,308.50 L465.49,307.29 L465.91,306.16 L466.57,305.17 L467.43,304.37 L468.40,303.76 L469.47,303.34 L470.60,303.11 L471.78,303.12 L472.96,303.40 L474.06,304.00 L474.96,304.89 L475.60,306.00 L475.93,307.24Z" fill="#111"/>
<path d="M469.6,306.9 L470.3,306.3 L471.1,306.7 L471.1,307.6 L471.1,308.1 L471.4,308.8 L471.0,309.6 L470.1,309.4 L469.7,308.7" fill="none" stroke="#666" stroke-width="0.6" stroke-linejoin="round"/>
<circle cx="470.3" cy="307.9" r="0.9" fill="#ccc"/>
<line x1="418.80" y1="255.20" x2="511.60" y2="255.20" stroke="#333" stroke-width="1"/>
<line x1="418.80" y1="339.60" x2="511.60" y2="339.60" stroke="#333" stroke-width="1.1"/>
<line x1="418.80" y1="255.20" x2="418.80" y2="339.60" stroke="#777" stroke-width="1"/>
<line x1="511.60" y1="255.20" x2="511.60" y2="340.10" stroke="#666" stroke-width="1"/>
<line x1="509.60" y1="255.20" x2="511.60" y2="255.20" stroke="#666" stroke-width="1"/>
<line x1="509.60" y1="339.60" x2="511.60" y2="339.60" stroke="#555" stroke-width="1"/>
<line x1="461.40" y1="255.20" x2="461.40" y2="339.60" stroke="#222" stroke-width="1.0"/>
<line x1="418.80" y1="299.60" x2="511.60" y2="299.60" stroke="#222" stroke-width="1.0"/>
<rect x="493.79" y="254.20" width="17.21" height="7.00" fill="#fff"/>
<rect x="497.31" y="333.60" width="13.69" height="7.00" fill="#fff"/>
<text x="420.3" y="261.09999999999997" font-size="5.8" font-weight="bold" letter-spacing="0.3" fill="#000" font-family="Liberation Sans, Arial, sans-serif">0</text>
<text x="510.70000000000005" y="261.09999999999997" font-size="5.8" font-weight="bold" letter-spacing="0.3" fill="#111" text-anchor="end" font-family="Liberation Sans, Arial, sans-serif">0.517</text>
<text x="420.3" y="338.8" font-size="5.8" font-weight="bold" letter-spacing="0.3" fill="#111" font-family="Liberation Sans, Arial, sans-serif">0</text>
<text x="510.70000000000005" y="338.8" font-size="5.8" font-weight="bold" letter-spacing="0.3" fill="#111" text-anchor="end" font-family="Liberation Sans, Arial, sans-serif">99.5</text>
<text x="427.2" y="349.9" font-size="6.3" font-weight="bold" fill="#111" stroke="#111" stroke-width="0.15" font-family="Liberation Sans, Arial, sans-serif">0</text>
<text x="433.4" y="349.9" font-size="6.3" font-weight="bold" fill="#111" stroke="#111" stroke-width="0.15" font-family="Liberation Sans, Arial, sans-serif">10<tspan font-size="4.5" dy="-3" fill="#666">2</tspan></text>
<text x="456.1" y="349.9" font-size="6.3" font-weight="bold" fill="#111" stroke="#111" stroke-width="0.15" font-family="Liberation Sans, Arial, sans-serif">10<tspan font-size="4.5" dy="-3" fill="#666">3</tspan></text>
<text x="478.4" y="349.9" font-size="6.3" font-weight="bold" fill="#111" stroke="#111" stroke-width="0.15" font-family="Liberation Sans, Arial, sans-serif">10<tspan font-size="4.5" dy="-3" fill="#666">4</tspan></text>
<text x="498.4" y="349.9" font-size="6.3" font-weight="bold" fill="#111" stroke="#111" stroke-width="0.15" font-family="Liberation Sans, Arial, sans-serif">10<tspan font-size="4.5" dy="-3" fill="#666">5</tspan></text>
<text x="411.8" y="265.5" font-size="6.2" font-weight="bold" fill="#111" stroke="#111" stroke-width="0.15" text-anchor="end" font-family="Liberation Sans, Arial, sans-serif">10</text>
<text x="412.0" y="262.5" font-size="4.5" font-weight="bold" fill="#666" font-family="Liberation Sans, Arial, sans-serif">5</text>
<text x="411.8" y="283.3" font-size="6.2" font-weight="bold" fill="#111" stroke="#111" stroke-width="0.15" text-anchor="end" font-family="Liberation Sans, Arial, sans-serif">10</text>
<text x="412.0" y="280.3" font-size="4.5" font-weight="bold" fill="#666" font-family="Liberation Sans, Arial, sans-serif">4</text>
<text x="411.8" y="303.8" font-size="6.2" font-weight="bold" fill="#111" stroke="#111" stroke-width="0.15" text-anchor="end" font-family="Liberation Sans, Arial, sans-serif">10</text>
<text x="412.0" y="300.8" font-size="4.5" font-weight="bold" fill="#666" font-family="Liberation Sans, Arial, sans-serif">3</text>
<text x="411.8" y="324.1" font-size="6.2" font-weight="bold" fill="#111" stroke="#111" stroke-width="0.15" text-anchor="end" font-family="Liberation Sans, Arial, sans-serif">10</text>
<text x="412.0" y="321.1" font-size="4.5" font-weight="bold" fill="#666" font-family="Liberation Sans, Arial, sans-serif">2</text>
<text x="414.0" y="332.3" font-size="6.2" font-weight="bold" fill="#111" stroke="#111" stroke-width="0.15" text-anchor="end" font-family="Liberation Sans, Arial, sans-serif">0</text>
<text transform="translate(404.67,304.60) rotate(-90)" font-size="10.3" font-weight="bold" fill="#111" font-family="Liberation Sans, Arial, sans-serif" textLength="15.1" lengthAdjust="spacingAndGlyphs">IL-4</text>
<circle cx="91.1" cy="394.7" r="0.45" fill="#777"/>
<circle cx="89.5" cy="392.9" r="0.45" fill="#777"/>
<circle cx="83.8" cy="394.7" r="0.45" fill="#777"/>
<circle cx="85.3" cy="394.8" r="0.45" fill="#777"/>
<path d="M92.56,410.00 L92.40,413.22 L91.96,416.27 L91.25,419.01 L90.30,421.25 L89.15,422.84 L87.88,423.67 L86.60,423.73 L85.37,423.12 L84.23,421.93 L83.23,420.25 L82.40,418.14 L81.77,415.65 L81.40,412.88 L81.32,410.00 L81.54,407.19 L82.00,404.61 L82.65,402.34 L83.44,400.39 L84.37,398.74 L85.42,397.44 L86.60,396.62 L87.87,396.47 L89.15,397.12 L90.34,398.62 L91.32,400.86 L92.03,403.65 L92.44,406.76Z" fill="none" stroke="rgb(120,120,120)" stroke-width="0.65"/>
<path d="M91.84,410.50 L91.43,413.26 L90.80,415.55 L90.07,417.42 L89.31,418.99 L88.50,420.34 L87.59,421.35 L86.60,421.80 L85.59,421.55 L84.66,420.59 L83.85,419.11 L83.18,417.32 L82.59,415.33 L82.07,413.08 L81.68,410.50 L81.54,407.61 L81.77,404.68 L82.40,402.12 L83.35,400.30 L84.45,399.34 L85.56,399.09 L86.60,399.21 L87.61,399.48 L88.64,399.92 L89.71,400.76 L90.71,402.30 L91.49,404.61 L91.89,407.48Z" fill="none" stroke="rgb(110,110,110)" stroke-width="0.65"/>
<path d="M90.44,411.00 L90.44,413.15 L90.33,415.40 L90.02,417.69 L89.46,419.78 L88.63,421.31 L87.62,421.98 L86.60,421.71 L85.69,420.72 L84.96,419.33 L84.37,417.85 L83.84,416.38 L83.35,414.83 L82.94,413.05 L82.69,411.00 L82.70,408.82 L83.00,406.75 L83.54,405.01 L84.22,403.67 L84.96,402.68 L85.76,401.95 L86.60,401.50 L87.49,401.45 L88.38,401.96 L89.17,403.10 L89.78,404.79 L90.17,406.79 L90.36,408.89Z" fill="none" stroke="rgb(100,100,100)" stroke-width="0.65"/>
<path d="M89.14,403.00 L89.14,403.89 L89.02,404.79 L88.78,405.63 L88.40,406.34 L87.90,406.82 L87.35,407.04 L86.80,407.00 L86.28,406.77 L85.82,406.41 L85.39,405.94 L85.01,405.38 L84.69,404.69 L84.46,403.89 L84.36,403.00 L84.41,402.09 L84.61,401.24 L84.92,400.50 L85.31,399.89 L85.77,399.42 L86.27,399.10 L86.80,398.97 L87.34,399.05 L87.85,399.36 L88.30,399.87 L88.65,400.55 L88.90,401.32 L89.06,402.14Z" fill="none" stroke="rgb(90,90,90)" stroke-width="0.65"/>
<path d="M88.87,411.00 L88.78,411.68 L88.53,412.27 L88.19,412.73 L87.82,413.09 L87.45,413.41 L87.06,413.73 L86.60,414.01 L86.07,414.17 L85.51,414.08 L85.03,413.68 L84.72,413.05 L84.61,412.31 L84.66,411.60 L84.78,411.00 L84.89,410.47 L84.95,409.92 L85.03,409.29 L85.21,408.63 L85.56,408.04 L86.04,407.67 L86.60,407.58 L87.14,407.77 L87.61,408.15 L87.99,408.62 L88.32,409.13 L88.60,409.69 L88.80,410.32Z" fill="none" stroke="rgb(100,100,100)" stroke-width="0.65"/>
<path d="M88.06,418.50 L87.97,418.94 L87.81,419.33 L87.61,419.68 L87.38,420.01 L87.11,420.30 L86.78,420.56 L86.40,420.75 L85.97,420.82 L85.52,420.74 L85.10,420.49 L84.77,420.08 L84.56,419.58 L84.48,419.03 L84.52,418.50 L84.63,418.01 L84.82,417.57 L85.04,417.18 L85.32,416.84 L85.64,416.57 L86.00,416.37 L86.40,416.28 L86.81,416.32 L87.20,416.47 L87.54,416.75 L87.81,417.12 L88.00,417.56 L88.08,418.03Z" fill="none" stroke="rgb(110,110,110)" stroke-width="0.65"/>
<path d="M88.01,403.00 L87.93,403.43 L87.81,403.81 L87.66,404.14 L87.49,404.44 L87.29,404.69 L87.05,404.85 L86.80,404.91 L86.55,404.86 L86.30,404.72 L86.08,404.50 L85.88,404.22 L85.70,403.88 L85.56,403.47 L85.49,403.00 L85.51,402.51 L85.62,402.05 L85.81,401.69 L86.05,401.43 L86.30,401.28 L86.55,401.18 L86.80,401.12 L87.06,401.10 L87.33,401.15 L87.60,401.33 L87.83,401.63 L87.98,402.05 L88.04,402.53Z" fill="none" stroke="rgb(130,130,130)" stroke-width="0.65"/>
<path d="M92.12,410.00 L92.05,413.02 L91.71,415.98 L91.09,418.69 L90.19,420.94 L89.08,422.52 L87.85,423.35 L86.60,423.47 L85.38,422.98 L84.22,421.98 L83.15,420.51 L82.20,418.53 L81.44,416.04 L80.96,413.13 L80.82,410.00 L81.04,406.92 L81.56,404.11 L82.31,401.69 L83.22,399.70 L84.25,398.13 L85.38,397.03 L86.60,396.50 L87.85,396.67 L89.06,397.62 L90.12,399.29 L90.97,401.54 L91.58,404.18 L91.96,407.03Z" fill="#000" fill-opacity="0.1"/>
<path d="M94.27,434.20 L94.10,436.30 L93.49,438.31 L92.46,440.11 L91.06,441.60 L89.37,442.67 L87.51,443.27 L85.60,443.39 L83.73,443.06 L81.97,442.34 L80.38,441.28 L78.99,439.90 L77.87,438.23 L77.09,436.30 L76.76,434.20 L76.94,432.06 L77.61,430.04 L78.74,428.28 L80.20,426.88 L81.90,425.88 L83.72,425.30 L85.60,425.12 L87.47,425.35 L89.26,425.99 L90.89,427.03 L92.27,428.45 L93.33,430.17 L94.01,432.12Z" fill="#000" fill-opacity="0.10"/>
<path d="M93.70,434.20 L93.40,436.13 L92.77,437.93 L91.86,439.60 L90.68,441.09 L89.24,442.38 L87.54,443.38 L85.60,443.96 L83.53,444.00 L81.50,443.41 L79.69,442.21 L78.28,440.51 L77.35,438.50 L76.91,436.35 L76.92,434.20 L77.30,432.15 L78.02,430.25 L79.03,428.54 L80.34,427.07 L81.91,425.92 L83.70,425.18 L85.60,424.91 L87.51,425.14 L89.32,425.84 L90.92,426.99 L92.21,428.50 L93.12,430.28 L93.62,432.22Z" fill="none" stroke="rgb(170,170,170)" stroke-width="0.7"/>
<path d="M94.13,434.20 L93.88,436.23 L93.22,438.14 L92.17,439.83 L90.81,441.21 L89.19,442.21 L87.42,442.78 L85.60,442.89 L83.82,442.56 L82.18,441.83 L80.74,440.75 L79.56,439.37 L78.69,437.78 L78.15,436.03 L77.97,434.20 L78.16,432.37 L78.70,430.63 L79.59,429.05 L80.77,427.69 L82.20,426.62 L83.83,425.88 L85.60,425.53 L87.43,425.61 L89.21,426.14 L90.85,427.12 L92.24,428.51 L93.29,430.22 L93.93,432.16Z" fill="none" stroke="rgb(141,141,141)" stroke-width="0.7"/>
<path d="M93.00,434.20 L93.12,436.03 L92.69,437.84 L91.71,439.40 L90.34,440.54 L88.79,441.26 L87.20,441.66 L85.60,441.83 L83.97,441.79 L82.33,441.44 L80.76,440.66 L79.45,439.43 L78.55,437.82 L78.12,436.02 L78.09,434.20 L78.34,432.43 L78.81,430.71 L79.52,429.03 L80.56,427.46 L81.99,426.21 L83.74,425.51 L85.60,425.49 L87.33,426.12 L88.77,427.19 L89.90,428.46 L90.83,429.75 L91.68,431.08 L92.45,432.53Z" fill="none" stroke="rgb(112,112,112)" stroke-width="0.7"/>
<path d="M92.83,434.20 L92.62,435.89 L91.99,437.45 L91.04,438.79 L89.88,439.87 L88.56,440.70 L87.13,441.28 L85.60,441.58 L84.02,441.52 L82.48,441.05 L81.12,440.14 L80.04,438.89 L79.31,437.40 L78.90,435.82 L78.79,434.20 L78.93,432.59 L79.34,431.02 L80.06,429.53 L81.11,428.24 L82.45,427.29 L83.99,426.75 L85.60,426.66 L87.16,426.97 L88.61,427.60 L89.91,428.48 L91.06,429.60 L91.98,430.95 L92.61,432.51Z" fill="none" stroke="rgb(83,83,83)" stroke-width="0.7"/>
<path d="M92.05,434.20 L91.82,435.68 L91.29,437.06 L90.50,438.29 L89.50,439.32 L88.32,440.11 L87.00,440.63 L85.60,440.84 L84.18,440.71 L82.82,440.24 L81.59,439.46 L80.55,438.41 L79.75,437.15 L79.21,435.72 L78.99,434.20 L79.09,432.65 L79.53,431.14 L80.31,429.79 L81.38,428.67 L82.68,427.85 L84.11,427.36 L85.60,427.23 L87.08,427.43 L88.47,427.96 L89.72,428.79 L90.76,429.90 L91.52,431.22 L91.96,432.68Z" fill="none" stroke="rgb(54,54,54)" stroke-width="0.7"/>
<path d="M91.36,434.20 L91.21,435.52 L90.85,436.81 L90.26,438.04 L89.40,439.13 L88.29,439.98 L86.99,440.48 L85.60,440.60 L84.24,440.34 L83.00,439.78 L81.90,439.00 L80.93,438.04 L80.14,436.92 L79.57,435.62 L79.31,434.20 L79.44,432.75 L79.96,431.39 L80.81,430.26 L81.89,429.39 L83.08,428.79 L84.32,428.41 L85.60,428.25 L86.90,428.33 L88.17,428.69 L89.33,429.37 L90.27,430.35 L90.93,431.55 L91.28,432.86Z" fill="none" stroke="rgb(25,25,25)" stroke-width="0.7"/>
<path d="M91.61,434.20 L91.50,435.59 L91.08,436.93 L90.37,438.13 L89.41,439.14 L88.25,439.88 L86.96,440.34 L85.60,440.49 L84.25,440.33 L82.96,439.87 L81.80,439.12 L80.85,438.12 L80.14,436.92 L79.73,435.58 L79.62,434.20 L79.81,432.83 L80.28,431.55 L80.99,430.40 L81.93,429.44 L83.04,428.71 L84.28,428.24 L85.60,428.08 L86.92,428.24 L88.17,428.69 L89.29,429.42 L90.23,430.39 L90.95,431.54 L91.42,432.83Z" fill="#111"/>
<path d="M86.8,433.2 L87.6,434.0 L87.0,434.9 L86.0,435.0 L85.4,435.0 L84.5,435.3 L83.6,434.8 L83.8,433.7 L84.7,433.3" fill="none" stroke="#666" stroke-width="0.6" stroke-linejoin="round"/>
<circle cx="85" cy="434" r="1" fill="#bbb"/>
<line x1="29.90" y1="386.10" x2="128.60" y2="386.10" stroke="#333" stroke-width="1"/>
<line x1="29.90" y1="475.00" x2="128.60" y2="475.00" stroke="#333" stroke-width="1.1"/>
<line x1="29.90" y1="386.10" x2="29.90" y2="475.00" stroke="#777" stroke-width="1"/>
<line x1="128.60" y1="386.10" x2="128.60" y2="475.50" stroke="#666" stroke-width="1"/>
<line x1="126.60" y1="386.10" x2="128.60" y2="386.10" stroke="#666" stroke-width="1"/>
<line x1="126.60" y1="475.00" x2="128.60" y2="475.00" stroke="#555" stroke-width="1"/>
<line x1="74.40" y1="386.10" x2="74.40" y2="475.00" stroke="#3a3a3a" stroke-width="1.0"/>
<line x1="29.90" y1="424.30" x2="128.60" y2="424.30" stroke="#3a3a3a" stroke-width="1.0"/>
<rect x="114.31" y="385.10" width="13.69" height="7.00" fill="#fff"/>
<rect x="114.31" y="469.00" width="13.69" height="7.00" fill="#fff"/>
<text x="31.4" y="392.0" font-size="5.8" font-weight="bold" letter-spacing="0.3" fill="#000" font-family="Liberation Sans, Arial, sans-serif">0</text>
<text x="127.69999999999999" y="392.0" font-size="5.8" font-weight="bold" letter-spacing="0.3" fill="#111" text-anchor="end" font-family="Liberation Sans, Arial, sans-serif">15.3</text>
<text x="31.4" y="474.2" font-size="5.8" font-weight="bold" letter-spacing="0.3" fill="#111" font-family="Liberation Sans, Arial, sans-serif">0</text>
<text x="127.69999999999999" y="474.2" font-size="5.8" font-weight="bold" letter-spacing="0.3" fill="#111" text-anchor="end" font-family="Liberation Sans, Arial, sans-serif">84.9</text>
<text x="38.9" y="485.3" font-size="6.3" font-weight="bold" fill="#111" stroke="#111" stroke-width="0.15" font-family="Liberation Sans, Arial, sans-serif">0</text>
<text x="45.4" y="485.3" font-size="6.3" font-weight="bold" fill="#111" stroke="#111" stroke-width="0.15" font-family="Liberation Sans, Arial, sans-serif">10<tspan font-size="4.5" dy="-3" fill="#666">2</tspan></text>
<text x="69.6" y="485.3" font-size="6.3" font-weight="bold" fill="#111" stroke="#111" stroke-width="0.15" font-family="Liberation Sans, Arial, sans-serif">10<tspan font-size="4.5" dy="-3" fill="#666">3</tspan></text>
<text x="93.3" y="485.3" font-size="6.3" font-weight="bold" fill="#111" stroke="#111" stroke-width="0.15" font-family="Liberation Sans, Arial, sans-serif">10<tspan font-size="4.5" dy="-3" fill="#666">4</tspan></text>
<text x="114.6" y="485.3" font-size="6.3" font-weight="bold" fill="#111" stroke="#111" stroke-width="0.15" font-family="Liberation Sans, Arial, sans-serif">10<tspan font-size="4.5" dy="-3" fill="#666">5</tspan></text>
<text x="22.8" y="397.4" font-size="6.2" font-weight="bold" fill="#111" stroke="#111" stroke-width="0.15" text-anchor="end" font-family="Liberation Sans, Arial, sans-serif">10</text>
<text x="23.0" y="394.4" font-size="4.5" font-weight="bold" fill="#666" font-family="Liberation Sans, Arial, sans-serif">5</text>
<text x="22.8" y="417.0" font-size="6.2" font-weight="bold" fill="#111" stroke="#111" stroke-width="0.15" text-anchor="end" font-family="Liberation Sans, Arial, sans-serif">10</text>
<text x="23.0" y="414.0" font-size="4.5" font-weight="bold" fill="#666" font-family="Liberation Sans, Arial, sans-serif">4</text>
<text x="22.8" y="437.5" font-size="6.2" font-weight="bold" fill="#111" stroke="#111" stroke-width="0.15" text-anchor="end" font-family="Liberation Sans, Arial, sans-serif">10</text>
<text x="23.0" y="434.5" font-size="4.5" font-weight="bold" fill="#666" font-family="Liberation Sans, Arial, sans-serif">3</text>
<text x="22.8" y="458.7" font-size="6.2" font-weight="bold" fill="#111" stroke="#111" stroke-width="0.15" text-anchor="end" font-family="Liberation Sans, Arial, sans-serif">10</text>
<text x="23.0" y="455.7" font-size="4.5" font-weight="bold" fill="#666" font-family="Liberation Sans, Arial, sans-serif">2</text>
<text x="25.1" y="467.3" font-size="6.2" font-weight="bold" fill="#111" stroke="#111" stroke-width="0.15" text-anchor="end" font-family="Liberation Sans, Arial, sans-serif">0</text>
<text transform="translate(13.96,441.50) rotate(-90)" font-size="10" font-weight="bold" fill="#111" font-family="Liberation Sans, Arial, sans-serif" textLength="22.9" lengthAdjust="spacingAndGlyphs">IFN-g</text>
<circle cx="216.0" cy="412.0" r="0.5" fill="#777"/>
<circle cx="224.0" cy="410.0" r="0.5" fill="#777"/>
<circle cx="217.0" cy="420.0" r="0.5" fill="#777"/>
<circle cx="220.0" cy="428.0" r="0.5" fill="#777"/>
<circle cx="212.0" cy="421.0" r="0.5" fill="#777"/>
<circle cx="214.0" cy="422.0" r="0.5" fill="#777"/>
<circle cx="213.0" cy="460.0" r="0.45" fill="#666"/>
<circle cx="213.5" cy="458.7" r="0.45" fill="#666"/>
<circle cx="215.2" cy="457.9" r="0.45" fill="#666"/>
<circle cx="213.8" cy="458.2" r="0.45" fill="#666"/>
<circle cx="217.5" cy="461.1" r="0.45" fill="#666"/>
<circle cx="216.9" cy="464.2" r="0.45" fill="#666"/>
<circle cx="211.3" cy="459.3" r="0.45" fill="#666"/>
<circle cx="217.5" cy="462.9" r="0.45" fill="#666"/>
<circle cx="210.2" cy="453.6" r="0.45" fill="#666"/>
<path d="M220.50,438.00 L220.67,441.21 L220.30,444.45 L219.40,447.30 L218.07,449.44 L216.51,450.75 L214.88,451.27 L213.30,451.15 L211.81,450.50 L210.44,449.36 L209.25,447.71 L208.31,445.61 L207.66,443.19 L207.32,440.61 L207.23,438.00 L207.33,435.40 L207.62,432.77 L208.16,430.17 L209.02,427.74 L210.23,425.80 L211.71,424.66 L213.30,424.52 L214.82,425.30 L216.14,426.74 L217.25,428.54 L218.22,430.50 L219.12,432.64 L219.92,435.11Z" fill="none" stroke="rgb(150,150,150)" stroke-width="0.6"/>
<path d="M218.76,438.50 L218.73,440.75 L218.49,443.03 L217.92,445.18 L217.01,446.93 L215.84,448.07 L214.56,448.53 L213.30,448.45 L212.10,448.01 L210.95,447.32 L209.85,446.32 L208.85,444.92 L208.07,443.06 L207.64,440.84 L207.62,438.50 L207.94,436.28 L208.48,434.30 L209.13,432.48 L209.87,430.72 L210.77,429.00 L211.92,427.52 L213.30,426.62 L214.80,426.61 L216.20,427.60 L217.31,429.41 L218.04,431.66 L218.45,434.01 L218.66,436.29Z" fill="none" stroke="rgb(140,140,140)" stroke-width="0.6"/>
<path d="M217.84,439.00 L217.62,440.71 L217.23,442.29 L216.75,443.78 L216.15,445.22 L215.39,446.55 L214.43,447.59 L213.30,448.09 L212.13,447.90 L211.08,447.03 L210.25,445.66 L209.66,444.04 L209.28,442.37 L209.02,440.70 L208.87,439.00 L208.87,437.24 L209.11,435.49 L209.63,433.92 L210.42,432.71 L211.35,431.97 L212.34,431.67 L213.30,431.69 L214.23,431.92 L215.15,432.33 L216.04,433.02 L216.85,434.07 L217.47,435.51 L217.81,437.21Z" fill="none" stroke="rgb(130,130,130)" stroke-width="0.6"/>
<path d="M220.79,445.00 L220.49,447.43 L219.77,449.63 L218.74,451.51 L217.52,453.05 L216.15,454.29 L214.64,455.23 L213.00,455.76 L211.27,455.76 L209.57,455.11 L208.06,453.80 L206.87,451.94 L206.07,449.75 L205.64,447.39 L205.53,445.00 L205.73,442.64 L206.22,440.36 L207.04,438.25 L208.20,436.45 L209.65,435.12 L211.29,434.38 L213.00,434.24 L214.67,434.62 L216.24,435.44 L217.68,436.65 L218.96,438.25 L219.97,440.23 L220.61,442.53Z" fill="#000" fill-opacity="0.10"/>
<path d="M220.72,445.00 L220.26,447.35 L219.59,449.51 L218.74,451.51 L217.67,453.31 L216.32,454.79 L214.73,455.76 L213.00,456.07 L211.28,455.72 L209.68,454.78 L208.28,453.40 L207.11,451.68 L206.19,449.66 L205.61,447.40 L205.45,445.00 L205.75,442.65 L206.48,440.54 L207.52,438.80 L208.74,437.41 L210.05,436.28 L211.45,435.33 L213.00,434.58 L214.73,434.21 L216.56,434.49 L218.29,435.57 L219.68,437.43 L220.55,439.83 L220.87,442.45Z" fill="none" stroke="rgb(160,160,160)" stroke-width="0.7"/>
<path d="M220.60,445.00 L220.49,447.34 L219.94,449.58 L218.98,451.53 L217.70,453.07 L216.22,454.15 L214.63,454.77 L213.00,454.97 L211.38,454.73 L209.82,454.04 L208.42,452.87 L207.27,451.26 L206.46,449.31 L206.04,447.18 L205.99,445.00 L206.26,442.89 L206.79,440.91 L207.58,439.08 L208.61,437.46 L209.89,436.16 L211.38,435.30 L213.00,434.98 L214.63,435.23 L216.16,436.00 L217.53,437.21 L218.70,438.77 L219.64,440.62 L220.29,442.72Z" fill="none" stroke="rgb(127,127,127)" stroke-width="0.7"/>
<path d="M219.94,445.00 L219.97,447.09 L219.58,449.16 L218.73,451.00 L217.48,452.38 L216.00,453.19 L214.47,453.49 L213.00,453.47 L211.57,453.26 L210.12,452.87 L208.65,452.17 L207.27,451.00 L206.20,449.30 L205.62,447.22 L205.60,445.00 L206.08,442.93 L206.88,441.13 L207.84,439.59 L208.89,438.23 L210.07,437.00 L211.44,436.03 L213.00,435.51 L214.63,435.62 L216.15,436.40 L217.42,437.71 L218.40,439.34 L219.11,441.13 L219.63,443.01Z" fill="none" stroke="rgb(95,95,95)" stroke-width="0.7"/>
<path d="M219.52,445.00 L219.58,446.88 L219.24,448.77 L218.48,450.48 L217.36,451.86 L216.00,452.81 L214.51,453.31 L213.00,453.38 L211.53,453.07 L210.16,452.39 L208.94,451.39 L207.92,450.08 L207.14,448.54 L206.64,446.82 L206.41,445.00 L206.46,443.13 L206.82,441.27 L207.50,439.50 L208.53,437.97 L209.86,436.83 L211.40,436.23 L213.00,436.22 L214.50,436.76 L215.81,437.69 L216.89,438.88 L217.79,440.21 L218.55,441.65 L219.15,443.24Z" fill="none" stroke="rgb(62,62,62)" stroke-width="0.7"/>
<path d="M218.88,445.00 L218.84,446.58 L218.61,448.21 L218.11,449.84 L217.24,451.32 L216.00,452.40 L214.52,452.92 L213.00,452.81 L211.61,452.23 L210.41,451.38 L209.35,450.43 L208.34,449.41 L207.37,448.22 L206.54,446.75 L206.03,445.00 L206.03,443.11 L206.58,441.33 L207.59,439.87 L208.86,438.84 L210.24,438.18 L211.62,437.81 L213.00,437.67 L214.38,437.80 L215.73,438.28 L216.92,439.16 L217.85,440.40 L218.46,441.88 L218.78,443.43Z" fill="none" stroke="rgb(30,30,30)" stroke-width="0.7"/>
<path d="M219.12,445.00 L218.91,446.60 L218.46,448.12 L217.77,449.52 L216.84,450.72 L215.70,451.65 L214.40,452.26 L213.00,452.51 L211.58,452.39 L210.19,451.92 L208.90,451.10 L207.78,449.95 L206.91,448.49 L206.38,446.79 L206.25,445.00 L206.52,443.24 L207.14,441.65 L208.02,440.29 L209.09,439.17 L210.28,438.30 L211.59,437.69 L213.00,437.38 L214.45,437.46 L215.85,437.97 L217.09,438.91 L218.07,440.20 L218.73,441.72 L219.07,443.36Z" fill="#1c1c1c"/>
<path d="M212.8,442.4 L214.0,442.4 L214.4,443.4 L213.7,444.3 L213.2,444.8 L212.9,445.7 L211.8,446.1 L211.1,445.1 L211.4,444.1" fill="none" stroke="#777" stroke-width="0.7" stroke-linejoin="round"/>
<path d="M212.1,447.0 L209.9,447.2 L209.1,445.2 L210.3,443.5 L211.0,442.6 L211.6,440.8 L213.7,440.0 L215.0,441.7 L214.6,443.6" fill="none" stroke="#777" stroke-width="0.7" stroke-linejoin="round"/>
<line x1="158.80" y1="385.00" x2="257.30" y2="385.00" stroke="#333" stroke-width="1"/>
<line x1="158.80" y1="473.20" x2="257.30" y2="473.20" stroke="#333" stroke-width="1.1"/>
<line x1="158.80" y1="385.00" x2="158.80" y2="473.20" stroke="#777" stroke-width="1"/>
<line x1="257.30" y1="385.00" x2="257.30" y2="473.70" stroke="#666" stroke-width="1"/>
<line x1="255.30" y1="385.00" x2="257.30" y2="385.00" stroke="#666" stroke-width="1"/>
<line x1="255.30" y1="473.20" x2="257.30" y2="473.20" stroke="#555" stroke-width="1"/>
<line x1="203.90" y1="385.00" x2="203.90" y2="473.20" stroke="#444" stroke-width="1.0"/>
<line x1="158.80" y1="436.20" x2="257.30" y2="436.20" stroke="#444" stroke-width="1.0"/>
<rect x="243.01" y="384.00" width="13.69" height="7.00" fill="#fff"/>
<rect x="243.01" y="467.20" width="13.69" height="7.00" fill="#fff"/>
<text x="160.3" y="390.9" font-size="5.8" font-weight="bold" letter-spacing="0.3" fill="#000" font-family="Liberation Sans, Arial, sans-serif">0</text>
<text x="256.40000000000003" y="390.9" font-size="5.8" font-weight="bold" letter-spacing="0.3" fill="#111" text-anchor="end" font-family="Liberation Sans, Arial, sans-serif">8.72</text>
<text x="160.3" y="472.4" font-size="5.8" font-weight="bold" letter-spacing="0.3" fill="#111" font-family="Liberation Sans, Arial, sans-serif">0</text>
<text x="256.40000000000003" y="472.4" font-size="5.8" font-weight="bold" letter-spacing="0.3" fill="#111" text-anchor="end" font-family="Liberation Sans, Arial, sans-serif">91.5</text>
<text x="167.8" y="483.5" font-size="6.3" font-weight="bold" fill="#111" stroke="#111" stroke-width="0.15" font-family="Liberation Sans, Arial, sans-serif">0</text>
<text x="174.3" y="483.5" font-size="6.3" font-weight="bold" fill="#111" stroke="#111" stroke-width="0.15" font-family="Liberation Sans, Arial, sans-serif">10<tspan font-size="4.5" dy="-3" fill="#666">2</tspan></text>
<text x="198.4" y="483.5" font-size="6.3" font-weight="bold" fill="#111" stroke="#111" stroke-width="0.15" font-family="Liberation Sans, Arial, sans-serif">10<tspan font-size="4.5" dy="-3" fill="#666">3</tspan></text>
<text x="222.0" y="483.5" font-size="6.3" font-weight="bold" fill="#111" stroke="#111" stroke-width="0.15" font-family="Liberation Sans, Arial, sans-serif">10<tspan font-size="4.5" dy="-3" fill="#666">4</tspan></text>
<text x="243.3" y="483.5" font-size="6.3" font-weight="bold" fill="#111" stroke="#111" stroke-width="0.15" font-family="Liberation Sans, Arial, sans-serif">10<tspan font-size="4.5" dy="-3" fill="#666">5</tspan></text>
<text x="150.3" y="396.2" font-size="6.2" font-weight="bold" fill="#111" stroke="#111" stroke-width="0.15" text-anchor="end" font-family="Liberation Sans, Arial, sans-serif">10</text>
<text x="150.5" y="393.2" font-size="4.5" font-weight="bold" fill="#666" font-family="Liberation Sans, Arial, sans-serif">5</text>
<text x="150.3" y="415.0" font-size="6.2" font-weight="bold" fill="#111" stroke="#111" stroke-width="0.15" text-anchor="end" font-family="Liberation Sans, Arial, sans-serif">10</text>
<text x="150.5" y="412.0" font-size="4.5" font-weight="bold" fill="#666" font-family="Liberation Sans, Arial, sans-serif">4</text>
<text x="150.3" y="435.8" font-size="6.2" font-weight="bold" fill="#111" stroke="#111" stroke-width="0.15" text-anchor="end" font-family="Liberation Sans, Arial, sans-serif">10</text>
<text x="150.5" y="432.8" font-size="4.5" font-weight="bold" fill="#666" font-family="Liberation Sans, Arial, sans-serif">3</text>
<text x="150.3" y="456.8" font-size="6.2" font-weight="bold" fill="#111" stroke="#111" stroke-width="0.15" text-anchor="end" font-family="Liberation Sans, Arial, sans-serif">10</text>
<text x="150.5" y="453.8" font-size="4.5" font-weight="bold" fill="#666" font-family="Liberation Sans, Arial, sans-serif">2</text>
<text x="154.0" y="466.0" font-size="6.2" font-weight="bold" fill="#111" stroke="#111" stroke-width="0.15" text-anchor="end" font-family="Liberation Sans, Arial, sans-serif">0</text>
<text transform="translate(142.82,438.70) rotate(-90)" font-size="10.5" font-weight="bold" fill="#111" font-family="Liberation Sans, Arial, sans-serif" textLength="21.3" lengthAdjust="spacingAndGlyphs">IL-17</text>
<circle cx="347.3" cy="441.1" r="0.45" fill="#888"/>
<circle cx="355.1" cy="460.9" r="0.45" fill="#888"/>
<circle cx="348.6" cy="427.5" r="0.45" fill="#888"/>
<circle cx="355.2" cy="448.5" r="0.45" fill="#888"/>
<circle cx="353.0" cy="424.5" r="0.45" fill="#888"/>
<circle cx="346.6" cy="454.4" r="0.45" fill="#888"/>
<circle cx="350.3" cy="423.6" r="0.45" fill="#888"/>
<circle cx="355.4" cy="451.7" r="0.45" fill="#888"/>
<path d="M331.2,471 L331.2,404.55 A8.050000000000011,8.855000000000013 0 0 1 347.3,404.55 L347.3,471" fill="#000" fill-opacity="0.1" stroke="#999" stroke-width="0.6" clip-path="url(#c284_382)"/>
<path d="M332.1,471 L332.1,404.6 A7.099999999999994,7.809999999999994 0 0 1 346.3,404.6 L346.3,471" fill="#000" fill-opacity="0.12" stroke="#777" stroke-width="0.6" clip-path="url(#c284_382)"/>
<path d="M332.9,471 L332.9,404.85 A6.350000000000023,6.985000000000025 0 0 1 345.6,404.85 L345.6,471" fill="#000" fill-opacity="0.25" stroke="#555" stroke-width="0.6" clip-path="url(#c284_382)"/>
<path d="M333.7,470 L333.7,456 L333.7,405.3 A5.6,5.8 0 0 1 344.9,405.3 L344.9,458 L341.5,470 L340,462 L338.5,470 Z" fill="#000"/>
<line x1="339.3" y1="404" x2="339.3" y2="465" stroke="#777" stroke-width="1.2" stroke-dasharray="2 1.5 1 2"/>
<circle cx="336.0" cy="453.3" r="0.56" fill="#777"/>
<circle cx="336.3" cy="418.9" r="0.35" fill="#666"/>
<circle cx="337.4" cy="461.3" r="0.38" fill="#888"/>
<circle cx="343.1" cy="462.0" r="0.42" fill="#888"/>
<circle cx="337.8" cy="414.9" r="0.43" fill="#888"/>
<circle cx="339.3" cy="420.6" r="0.39" fill="#999"/>
<circle cx="343.3" cy="453.4" r="0.36" fill="#777"/>
<circle cx="339.7" cy="448.9" r="0.40" fill="#666"/>
<circle cx="338.9" cy="417.7" r="0.51" fill="#666"/>
<circle cx="339.7" cy="444.0" r="0.57" fill="#999"/>
<circle cx="343.2" cy="446.0" r="0.44" fill="#888"/>
<circle cx="338.1" cy="427.9" r="0.36" fill="#888"/>
<circle cx="340.3" cy="402.9" r="0.57" fill="#666"/>
<circle cx="336.0" cy="412.4" r="0.56" fill="#999"/>
<circle cx="340.8" cy="440.3" r="0.36" fill="#888"/>
<circle cx="338.9" cy="412.1" r="0.42" fill="#999"/>
<circle cx="339.7" cy="464.2" r="0.41" fill="#999"/>
<circle cx="336.8" cy="415.9" r="0.43" fill="#777"/>
<circle cx="339.3" cy="432.4" r="0.40" fill="#777"/>
<circle cx="341.8" cy="407.8" r="0.39" fill="#777"/>
<circle cx="337.7" cy="427.2" r="0.51" fill="#777"/>
<circle cx="339.5" cy="439.5" r="0.54" fill="#666"/>
<circle cx="341.1" cy="450.9" r="0.47" fill="#999"/>
<circle cx="340.4" cy="448.3" r="0.36" fill="#666"/>
<circle cx="341.8" cy="449.0" r="0.38" fill="#777"/>
<circle cx="340.0" cy="454.9" r="0.57" fill="#888"/>
<circle cx="335.6" cy="407.4" r="0.51" fill="#777"/>
<circle cx="338.9" cy="426.1" r="0.36" fill="#777"/>
<circle cx="340.7" cy="442.1" r="0.47" fill="#777"/>
<circle cx="335.9" cy="431.2" r="0.58" fill="#777"/>
<circle cx="335.8" cy="444.2" r="0.53" fill="#999"/>
<circle cx="342.1" cy="453.8" r="0.41" fill="#888"/>
<circle cx="340.5" cy="416.8" r="0.47" fill="#666"/>
<circle cx="342.6" cy="406.9" r="0.42" fill="#777"/>
<circle cx="340.4" cy="441.5" r="0.37" fill="#888"/>
<circle cx="340.5" cy="423.2" r="0.52" fill="#888"/>
<circle cx="335.8" cy="402.8" r="0.42" fill="#777"/>
<circle cx="340.7" cy="446.3" r="0.42" fill="#999"/>
<circle cx="339.0" cy="431.7" r="0.38" fill="#888"/>
<circle cx="336.0" cy="421.9" r="0.47" fill="#999"/>
<line x1="284.40" y1="382.80" x2="381.20" y2="382.80" stroke="#333" stroke-width="1"/>
<line x1="284.40" y1="470.30" x2="381.20" y2="470.30" stroke="#333" stroke-width="1.1"/>
<line x1="284.40" y1="382.80" x2="284.40" y2="470.30" stroke="#777" stroke-width="1"/>
<line x1="381.20" y1="382.80" x2="381.20" y2="470.80" stroke="#666" stroke-width="1"/>
<line x1="379.20" y1="382.80" x2="381.20" y2="382.80" stroke="#666" stroke-width="1"/>
<line x1="379.20" y1="470.30" x2="381.20" y2="470.30" stroke="#555" stroke-width="1"/>
<line x1="320.60" y1="382.80" x2="320.60" y2="470.30" stroke="#3a3a3a" stroke-width="1.0"/>
<line x1="284.40" y1="429.80" x2="381.20" y2="429.80" stroke="#3a3a3a" stroke-width="1.0"/>
<rect x="366.91" y="381.80" width="13.69" height="7.00" fill="#fff"/>
<rect x="366.91" y="464.30" width="13.69" height="7.00" fill="#fff"/>
<text x="285.9" y="388.7" font-size="5.8" font-weight="bold" letter-spacing="0.3" fill="#000" font-family="Liberation Sans, Arial, sans-serif">0</text>
<text x="380.3" y="388.7" font-size="5.8" font-weight="bold" letter-spacing="0.3" fill="#111" text-anchor="end" font-family="Liberation Sans, Arial, sans-serif">47.4</text>
<text x="285.9" y="469.5" font-size="5.8" font-weight="bold" letter-spacing="0.3" fill="#111" font-family="Liberation Sans, Arial, sans-serif">0</text>
<text x="380.3" y="469.5" font-size="5.8" font-weight="bold" letter-spacing="0.3" fill="#111" text-anchor="end" font-family="Liberation Sans, Arial, sans-serif">52.6</text>
<text x="293.2" y="480.6" font-size="6.3" font-weight="bold" fill="#111" stroke="#111" stroke-width="0.15" font-family="Liberation Sans, Arial, sans-serif">0</text>
<text x="299.6" y="480.6" font-size="6.3" font-weight="bold" fill="#111" stroke="#111" stroke-width="0.15" font-family="Liberation Sans, Arial, sans-serif">10<tspan font-size="4.5" dy="-3" fill="#666">2</tspan></text>
<text x="323.3" y="480.6" font-size="6.3" font-weight="bold" fill="#111" stroke="#111" stroke-width="0.15" font-family="Liberation Sans, Arial, sans-serif">10<tspan font-size="4.5" dy="-3" fill="#666">3</tspan></text>
<text x="346.5" y="480.6" font-size="6.3" font-weight="bold" fill="#111" stroke="#111" stroke-width="0.15" font-family="Liberation Sans, Arial, sans-serif">10<tspan font-size="4.5" dy="-3" fill="#666">4</tspan></text>
<text x="367.5" y="480.6" font-size="6.3" font-weight="bold" fill="#111" stroke="#111" stroke-width="0.15" font-family="Liberation Sans, Arial, sans-serif">10<tspan font-size="4.5" dy="-3" fill="#666">5</tspan></text>
<text x="277.6" y="393.6" font-size="6.2" font-weight="bold" fill="#111" stroke="#111" stroke-width="0.15" text-anchor="end" font-family="Liberation Sans, Arial, sans-serif">10</text>
<text x="277.8" y="390.6" font-size="4.5" font-weight="bold" fill="#666" font-family="Liberation Sans, Arial, sans-serif">5</text>
<text x="277.6" y="414.0" font-size="6.2" font-weight="bold" fill="#111" stroke="#111" stroke-width="0.15" text-anchor="end" font-family="Liberation Sans, Arial, sans-serif">10</text>
<text x="277.8" y="411.0" font-size="4.5" font-weight="bold" fill="#666" font-family="Liberation Sans, Arial, sans-serif">4</text>
<text x="277.6" y="433.0" font-size="6.2" font-weight="bold" fill="#111" stroke="#111" stroke-width="0.15" text-anchor="end" font-family="Liberation Sans, Arial, sans-serif">10</text>
<text x="277.8" y="430.0" font-size="4.5" font-weight="bold" fill="#666" font-family="Liberation Sans, Arial, sans-serif">3</text>
<text x="277.6" y="454.8" font-size="6.2" font-weight="bold" fill="#111" stroke="#111" stroke-width="0.15" text-anchor="end" font-family="Liberation Sans, Arial, sans-serif">10</text>
<text x="277.8" y="451.8" font-size="4.5" font-weight="bold" fill="#666" font-family="Liberation Sans, Arial, sans-serif">2</text>
<text x="279.6" y="463.6" font-size="6.2" font-weight="bold" fill="#111" stroke="#111" stroke-width="0.15" text-anchor="end" font-family="Liberation Sans, Arial, sans-serif">0</text>
<text transform="translate(268.75,439.40) rotate(-90)" font-size="10.4" fill="#111" font-family="Liberation Sans, Arial, sans-serif" textLength="29.2" lengthAdjust="spacingAndGlyphs">TNF-a</text>
<circle cx="477.0" cy="423.0" r="0.5" fill="#666"/>
<circle cx="480.0" cy="421.0" r="0.5" fill="#666"/>
<circle cx="483.0" cy="419.0" r="0.5" fill="#666"/>
<circle cx="486.0" cy="417.0" r="0.5" fill="#666"/>
<circle cx="488.0" cy="416.0" r="0.5" fill="#666"/>
<circle cx="481.0" cy="424.0" r="0.5" fill="#666"/>
<circle cx="485.0" cy="425.0" r="0.5" fill="#666"/>
<circle cx="478.5" cy="420.0" r="0.5" fill="#666"/>
<ellipse cx="474" cy="428.3" rx="2" ry="1.2" fill="#000"/>
<path d="M479.44,437.80 L479.10,439.57 L478.48,441.23 L477.63,442.77 L476.50,444.13 L475.10,445.23 L473.47,445.93 L471.70,446.16 L469.94,445.89 L468.31,445.19 L466.88,444.16 L465.66,442.86 L464.70,441.34 L464.04,439.64 L463.76,437.80 L463.94,435.94 L464.59,434.20 L465.64,432.72 L466.96,431.56 L468.45,430.71 L470.04,430.14 L471.70,429.84 L473.43,429.84 L475.16,430.25 L476.77,431.12 L478.10,432.44 L479.00,434.10 L479.43,435.94Z" fill="#000" fill-opacity="0.10"/>
<path d="M479.60,437.80 L479.28,439.62 L478.58,441.28 L477.64,442.78 L476.51,444.14 L475.16,445.35 L473.55,446.31 L471.70,446.82 L469.77,446.70 L467.99,445.90 L466.58,444.56 L465.62,442.90 L465.05,441.17 L464.72,439.47 L464.54,437.80 L464.52,436.08 L464.79,434.30 L465.49,432.59 L466.67,431.17 L468.22,430.21 L469.96,429.80 L471.70,429.85 L473.34,430.24 L474.88,430.86 L476.34,431.69 L477.67,432.79 L478.76,434.23 L479.43,435.94Z" fill="none" stroke="rgb(170,170,170)" stroke-width="0.7"/>
<path d="M478.82,437.80 L478.80,439.49 L478.38,441.16 L477.57,442.68 L476.39,443.94 L474.96,444.86 L473.36,445.38 L471.70,445.50 L470.07,445.26 L468.52,444.70 L467.09,443.83 L465.84,442.67 L464.83,441.25 L464.14,439.60 L463.84,437.80 L463.99,435.96 L464.60,434.23 L465.61,432.74 L466.95,431.58 L468.48,430.83 L470.10,430.48 L471.70,430.50 L473.22,430.85 L474.62,431.48 L475.87,432.34 L476.95,433.43 L477.84,434.71 L478.49,436.18Z" fill="none" stroke="rgb(141,141,141)" stroke-width="0.7"/>
<path d="M479.00,437.80 L478.81,439.48 L478.22,441.05 L477.27,442.39 L476.04,443.43 L474.64,444.11 L473.17,444.45 L471.70,444.47 L470.29,444.21 L468.96,443.69 L467.74,442.94 L466.66,441.96 L465.78,440.75 L465.15,439.35 L464.85,437.80 L464.91,436.20 L465.35,434.64 L466.17,433.23 L467.30,432.08 L468.65,431.25 L470.15,430.77 L471.70,430.63 L473.24,430.83 L474.70,431.35 L476.05,432.16 L477.22,433.24 L478.15,434.59 L478.76,436.13Z" fill="none" stroke="rgb(112,112,112)" stroke-width="0.7"/>
<path d="M478.16,437.80 L478.20,439.32 L477.84,440.83 L477.04,442.16 L475.87,443.16 L474.49,443.74 L473.07,443.95 L471.70,443.90 L470.39,443.70 L469.09,443.37 L467.79,442.83 L466.57,441.99 L465.59,440.82 L465.02,439.36 L464.93,437.80 L465.28,436.30 L465.96,434.97 L466.84,433.82 L467.84,432.84 L468.99,432.02 L470.28,431.42 L471.70,431.14 L473.15,431.28 L474.51,431.82 L475.66,432.71 L476.58,433.81 L477.30,435.04 L477.83,436.37Z" fill="none" stroke="rgb(83,83,83)" stroke-width="0.7"/>
<path d="M477.57,437.80 L477.28,439.09 L476.76,440.27 L476.06,441.32 L475.20,442.25 L474.18,443.02 L473.00,443.59 L471.70,443.91 L470.33,443.90 L468.97,443.54 L467.75,442.82 L466.76,441.79 L466.09,440.54 L465.76,439.17 L465.76,437.80 L466.05,436.49 L466.58,435.30 L467.29,434.24 L468.18,433.32 L469.21,432.57 L470.40,432.02 L471.70,431.72 L473.07,431.73 L474.41,432.09 L475.62,432.81 L476.60,433.84 L477.26,435.09 L477.58,436.44Z" fill="none" stroke="rgb(54,54,54)" stroke-width="0.7"/>
<path d="M476.95,437.80 L476.96,439.00 L476.72,440.22 L476.18,441.37 L475.34,442.36 L474.24,443.08 L473.00,443.49 L471.70,443.56 L470.44,443.33 L469.28,442.83 L468.26,442.11 L467.43,441.21 L466.83,440.15 L466.48,438.99 L466.40,437.80 L466.56,436.63 L466.95,435.51 L467.54,434.48 L468.32,433.56 L469.30,432.81 L470.45,432.30 L471.70,432.11 L472.96,432.27 L474.12,432.78 L475.09,433.55 L475.84,434.50 L476.38,435.55 L476.75,436.65Z" fill="none" stroke="rgb(25,25,25)" stroke-width="0.7"/>
<path d="M477.49,437.80 L477.35,439.09 L476.86,440.29 L476.09,441.30 L475.12,442.09 L474.03,442.64 L472.89,443.00 L471.70,443.16 L470.49,443.12 L469.28,442.83 L468.15,442.25 L467.20,441.39 L466.53,440.29 L466.18,439.06 L466.16,437.80 L466.42,436.60 L466.91,435.49 L467.59,434.52 L468.43,433.70 L469.42,433.07 L470.53,432.66 L471.70,432.50 L472.89,432.60 L474.03,432.96 L475.09,433.55 L476.02,434.35 L476.77,435.36 L477.29,436.52Z" fill="#111"/>
<path d="M472.5,438.4 L472.0,439.3 L471.0,439.1 L470.7,438.2 L470.6,437.7 L470.1,437.0 L470.3,436.0 L471.3,436.0 L471.9,436.6" fill="none" stroke="#666" stroke-width="0.6" stroke-linejoin="round"/>
<circle cx="471.2" cy="437" r="0.9" fill="#bbb"/>
<line x1="416.50" y1="382.00" x2="513.60" y2="382.00" stroke="#333" stroke-width="1"/>
<line x1="416.50" y1="470.30" x2="513.60" y2="470.30" stroke="#333" stroke-width="1.1"/>
<line x1="416.50" y1="382.00" x2="416.50" y2="470.30" stroke="#777" stroke-width="1"/>
<line x1="513.60" y1="382.00" x2="513.60" y2="470.80" stroke="#666" stroke-width="1"/>
<line x1="511.60" y1="382.00" x2="513.60" y2="382.00" stroke="#666" stroke-width="1"/>
<line x1="511.60" y1="470.30" x2="513.60" y2="470.30" stroke="#555" stroke-width="1"/>
<line x1="462.30" y1="382.00" x2="462.30" y2="470.30" stroke="#333" stroke-width="1.0"/>
<line x1="416.50" y1="428.60" x2="513.60" y2="428.60" stroke="#333" stroke-width="1.0"/>
<rect x="495.79" y="381.00" width="17.21" height="7.00" fill="#fff"/>
<rect x="499.31" y="464.30" width="13.69" height="7.00" fill="#fff"/>
<text x="418.0" y="387.9" font-size="5.8" font-weight="bold" letter-spacing="0.3" fill="#000" font-family="Liberation Sans, Arial, sans-serif">0</text>
<text x="512.6999999999999" y="387.9" font-size="5.8" font-weight="bold" letter-spacing="0.3" fill="#111" text-anchor="end" font-family="Liberation Sans, Arial, sans-serif">0.654</text>
<text x="418.0" y="469.5" font-size="5.8" font-weight="bold" letter-spacing="0.3" fill="#111" font-family="Liberation Sans, Arial, sans-serif">0</text>
<text x="512.6999999999999" y="469.5" font-size="5.8" font-weight="bold" letter-spacing="0.3" fill="#111" text-anchor="end" font-family="Liberation Sans, Arial, sans-serif">99.3</text>
<text x="425.3" y="480.6" font-size="6.3" font-weight="bold" fill="#111" stroke="#111" stroke-width="0.15" font-family="Liberation Sans, Arial, sans-serif">0</text>
<text x="431.7" y="480.6" font-size="6.3" font-weight="bold" fill="#111" stroke="#111" stroke-width="0.15" font-family="Liberation Sans, Arial, sans-serif">10<tspan font-size="4.5" dy="-3" fill="#666">2</tspan></text>
<text x="455.5" y="480.6" font-size="6.3" font-weight="bold" fill="#111" stroke="#111" stroke-width="0.15" font-family="Liberation Sans, Arial, sans-serif">10<tspan font-size="4.5" dy="-3" fill="#666">3</tspan></text>
<text x="478.8" y="480.6" font-size="6.3" font-weight="bold" fill="#111" stroke="#111" stroke-width="0.15" font-family="Liberation Sans, Arial, sans-serif">10<tspan font-size="4.5" dy="-3" fill="#666">4</tspan></text>
<text x="499.8" y="480.6" font-size="6.3" font-weight="bold" fill="#111" stroke="#111" stroke-width="0.15" font-family="Liberation Sans, Arial, sans-serif">10<tspan font-size="4.5" dy="-3" fill="#666">5</tspan></text>
<text x="409.6" y="392.0" font-size="6.2" font-weight="bold" fill="#111" stroke="#111" stroke-width="0.15" text-anchor="end" font-family="Liberation Sans, Arial, sans-serif">10</text>
<text x="409.8" y="389.0" font-size="4.5" font-weight="bold" fill="#666" font-family="Liberation Sans, Arial, sans-serif">5</text>
<text x="409.6" y="412.0" font-size="6.2" font-weight="bold" fill="#111" stroke="#111" stroke-width="0.15" text-anchor="end" font-family="Liberation Sans, Arial, sans-serif">10</text>
<text x="409.8" y="409.0" font-size="4.5" font-weight="bold" fill="#666" font-family="Liberation Sans, Arial, sans-serif">4</text>
<text x="409.6" y="432.0" font-size="6.2" font-weight="bold" fill="#111" stroke="#111" stroke-width="0.15" text-anchor="end" font-family="Liberation Sans, Arial, sans-serif">10</text>
<text x="409.8" y="429.0" font-size="4.5" font-weight="bold" fill="#666" font-family="Liberation Sans, Arial, sans-serif">3</text>
<text x="409.6" y="453.8" font-size="6.2" font-weight="bold" fill="#111" stroke="#111" stroke-width="0.15" text-anchor="end" font-family="Liberation Sans, Arial, sans-serif">10</text>
<text x="409.8" y="450.8" font-size="4.5" font-weight="bold" fill="#666" font-family="Liberation Sans, Arial, sans-serif">2</text>
<text x="411.7" y="463.0" font-size="6.2" font-weight="bold" fill="#111" stroke="#111" stroke-width="0.15" text-anchor="end" font-family="Liberation Sans, Arial, sans-serif">0</text>
<text transform="translate(401.60,432.70) rotate(-90)" font-size="10.2" font-weight="bold" fill="#111" font-family="Liberation Sans, Arial, sans-serif" textLength="15.3" lengthAdjust="spacingAndGlyphs">IL-4</text>
</svg>
</body></html>
